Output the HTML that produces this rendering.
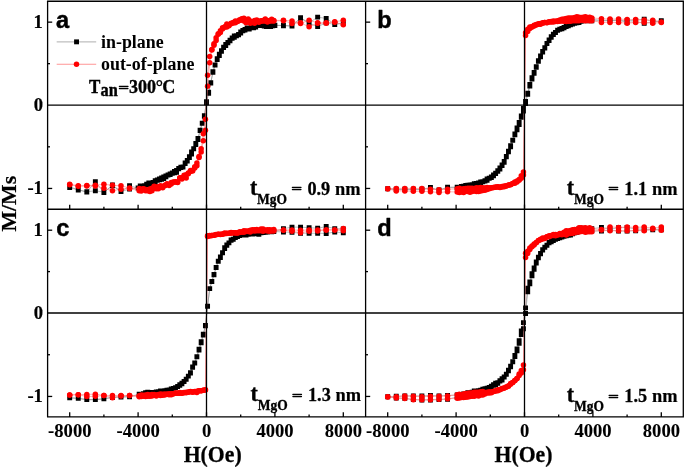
<!DOCTYPE html>
<html lang="en"><head><meta charset="utf-8"><title>M-H loops</title>
<style>html,body{margin:0;padding:0;background:#fff}body{width:685px;height:467px;overflow:hidden}svg{display:block}</style>
</head><body>
<svg width="685" height="467" viewBox="0 0 685 467">
<rect width="685" height="467" fill="#fff"/>
<path d="M343.3,22.83L334.75,24.08L326.2,18.42L317.65,17.17L309.1,22.83L300.55,17.76L292,25.91L283.45,25.33L274.9,25.5L272.76,25.46L270.62,26.44L268.49,26.28L266.35,26.48L264.21,25.97L262.07,25.09L259.94,25.54L257.8,25.39L255.66,26.27L253.53,26.61L251.39,27.32L249.25,29.13L247.11,28.31L244.97,29.41L242.84,30.44L240.7,33.02L238.56,34.76L236.43,35.88L234.29,37.2L232.15,38.28L230.01,40.19L227.88,42.48L225.74,45.65L223.6,47.15L221.46,50.66L219.32,55.49L217.19,58.58L215.05,65.05L212.91,71.7L210.78,83.11L208.64,93.18L206.5,102.91L204.36,115.58L202.22,123.36L200.09,130.25L197.95,138.56L195.81,144.54L193.68,148.78L191.54,151.93L189.4,157.6L187.26,161L185.12,163.54L182.99,166.9L180.85,167.47L178.71,168.34L176.57,172.25L174.44,172.72L172.3,173.41L170.16,174.64L168.03,174.83L165.89,176.71L163.75,178.55L161.61,177.93L159.47,178.98L157.34,179.87L155.2,180.6L153.06,182.34L150.93,183.2L148.79,184.83L146.65,184.25L144.51,185.8L142.38,186.42L140.24,187.68L138.1,188.13L129.55,185.82L121,191.64L112.45,184.99L103.9,192.48L95.35,181.66L86.8,192.14L78.25,189.65L69.7,186.99L69.7,187.57L78.25,190.06L86.8,191.73L95.35,190.81L103.9,192.14L112.45,185.9L121,191.31L129.55,189.15L138.1,187.84L140.24,185.98L142.38,187.47L144.51,186.36L146.65,184.5L148.79,183.01L150.93,182.89L153.06,183.85L155.2,183.24L157.34,180.26L159.47,179.92L161.61,179.23L163.75,176.93L165.89,175.94L168.03,175.06L170.16,173.93L172.3,173.05L174.44,171.45L176.57,170.5L178.71,168.86L180.85,167.14L182.99,166.95L185.12,162.97L187.26,160.52L189.4,156.71L191.54,154.05L193.68,148.86L195.81,143.34L197.95,139.47L200.09,130.54L202.22,123.1L204.36,116.38L206.5,101.61L208.64,92.32L210.78,82.79L212.91,72.28L215.05,64.99L217.19,59.64L219.32,54.29L221.46,51.36L223.6,47.63L225.74,44.53L227.88,42.81L230.01,40.75L232.15,37.86L234.29,35.91L236.43,35.58L238.56,34.52L240.7,31.99L242.84,30.87L244.97,29.94L247.11,27.94L249.25,28.71L251.39,26.6L253.53,27.72L255.66,26.96L257.8,25.66L259.94,25.08L262.07,25.26L264.21,25.6L266.35,25.77L268.49,25.97L270.62,25.91L272.76,25.92L274.9,25.14L283.45,25.74L292,26.16L300.55,18.26L309.1,23.25L317.65,26.58L326.2,22.83L334.75,24.5L343.3,23.25" fill="none" stroke="#8c8c8c" stroke-width="0.6"/>
<path d="M340.85,20.38h4.9v4.9h-4.9zM332.3,21.63h4.9v4.9h-4.9zM323.75,15.97h4.9v4.9h-4.9zM315.2,14.72h4.9v4.9h-4.9zM306.65,20.38h4.9v4.9h-4.9zM298.1,15.31h4.9v4.9h-4.9zM289.55,23.46h4.9v4.9h-4.9zM281,22.88h4.9v4.9h-4.9zM272.45,23.05h4.9v4.9h-4.9zM270.31,23.01h4.9v4.9h-4.9zM268.18,23.99h4.9v4.9h-4.9zM266.04,23.83h4.9v4.9h-4.9zM263.9,24.03h4.9v4.9h-4.9zM261.76,23.52h4.9v4.9h-4.9zM259.62,22.64h4.9v4.9h-4.9zM257.49,23.09h4.9v4.9h-4.9zM255.35,22.94h4.9v4.9h-4.9zM253.21,23.82h4.9v4.9h-4.9zM251.08,24.16h4.9v4.9h-4.9zM248.94,24.87h4.9v4.9h-4.9zM246.8,26.68h4.9v4.9h-4.9zM244.66,25.86h4.9v4.9h-4.9zM242.53,26.96h4.9v4.9h-4.9zM240.39,27.99h4.9v4.9h-4.9zM238.25,30.57h4.9v4.9h-4.9zM236.11,32.31h4.9v4.9h-4.9zM233.98,33.43h4.9v4.9h-4.9zM231.84,34.75h4.9v4.9h-4.9zM229.7,35.83h4.9v4.9h-4.9zM227.56,37.74h4.9v4.9h-4.9zM225.43,40.03h4.9v4.9h-4.9zM223.29,43.2h4.9v4.9h-4.9zM221.15,44.7h4.9v4.9h-4.9zM219.01,48.21h4.9v4.9h-4.9zM216.88,53.04h4.9v4.9h-4.9zM214.74,56.13h4.9v4.9h-4.9zM212.6,62.6h4.9v4.9h-4.9zM210.46,69.25h4.9v4.9h-4.9zM208.33,80.66h4.9v4.9h-4.9zM206.19,90.73h4.9v4.9h-4.9zM204.05,100.46h4.9v4.9h-4.9zM201.91,113.13h4.9v4.9h-4.9zM199.78,120.91h4.9v4.9h-4.9zM197.64,127.8h4.9v4.9h-4.9zM195.5,136.11h4.9v4.9h-4.9zM193.36,142.09h4.9v4.9h-4.9zM191.23,146.33h4.9v4.9h-4.9zM189.09,149.48h4.9v4.9h-4.9zM186.95,155.15h4.9v4.9h-4.9zM184.81,158.55h4.9v4.9h-4.9zM182.68,161.09h4.9v4.9h-4.9zM180.54,164.45h4.9v4.9h-4.9zM178.4,165.02h4.9v4.9h-4.9zM176.26,165.89h4.9v4.9h-4.9zM174.12,169.8h4.9v4.9h-4.9zM171.99,170.27h4.9v4.9h-4.9zM169.85,170.96h4.9v4.9h-4.9zM167.71,172.19h4.9v4.9h-4.9zM165.58,172.38h4.9v4.9h-4.9zM163.44,174.26h4.9v4.9h-4.9zM161.3,176.1h4.9v4.9h-4.9zM159.16,175.48h4.9v4.9h-4.9zM157.03,176.53h4.9v4.9h-4.9zM154.89,177.42h4.9v4.9h-4.9zM152.75,178.15h4.9v4.9h-4.9zM150.61,179.89h4.9v4.9h-4.9zM148.48,180.75h4.9v4.9h-4.9zM146.34,182.38h4.9v4.9h-4.9zM144.2,181.8h4.9v4.9h-4.9zM142.06,183.35h4.9v4.9h-4.9zM139.93,183.97h4.9v4.9h-4.9zM137.79,185.23h4.9v4.9h-4.9zM135.65,185.68h4.9v4.9h-4.9zM127.1,183.37h4.9v4.9h-4.9zM118.55,189.19h4.9v4.9h-4.9zM110,182.54h4.9v4.9h-4.9zM101.45,190.03h4.9v4.9h-4.9zM92.9,179.21h4.9v4.9h-4.9zM84.35,189.69h4.9v4.9h-4.9zM75.8,187.2h4.9v4.9h-4.9zM67.25,184.54h4.9v4.9h-4.9zM67.25,185.12h4.9v4.9h-4.9zM75.8,187.61h4.9v4.9h-4.9zM84.35,189.28h4.9v4.9h-4.9zM92.9,188.36h4.9v4.9h-4.9zM101.45,189.69h4.9v4.9h-4.9zM110,183.45h4.9v4.9h-4.9zM118.55,188.86h4.9v4.9h-4.9zM127.1,186.7h4.9v4.9h-4.9zM135.65,185.39h4.9v4.9h-4.9zM137.79,183.53h4.9v4.9h-4.9zM139.93,185.02h4.9v4.9h-4.9zM142.06,183.91h4.9v4.9h-4.9zM144.2,182.05h4.9v4.9h-4.9zM146.34,180.56h4.9v4.9h-4.9zM148.48,180.44h4.9v4.9h-4.9zM150.61,181.4h4.9v4.9h-4.9zM152.75,180.79h4.9v4.9h-4.9zM154.89,177.81h4.9v4.9h-4.9zM157.03,177.47h4.9v4.9h-4.9zM159.16,176.78h4.9v4.9h-4.9zM161.3,174.48h4.9v4.9h-4.9zM163.44,173.49h4.9v4.9h-4.9zM165.58,172.61h4.9v4.9h-4.9zM167.71,171.48h4.9v4.9h-4.9zM169.85,170.6h4.9v4.9h-4.9zM171.99,169h4.9v4.9h-4.9zM174.12,168.05h4.9v4.9h-4.9zM176.26,166.41h4.9v4.9h-4.9zM178.4,164.69h4.9v4.9h-4.9zM180.54,164.5h4.9v4.9h-4.9zM182.68,160.52h4.9v4.9h-4.9zM184.81,158.07h4.9v4.9h-4.9zM186.95,154.26h4.9v4.9h-4.9zM189.09,151.6h4.9v4.9h-4.9zM191.23,146.41h4.9v4.9h-4.9zM193.36,140.89h4.9v4.9h-4.9zM195.5,137.02h4.9v4.9h-4.9zM197.64,128.09h4.9v4.9h-4.9zM199.78,120.65h4.9v4.9h-4.9zM201.91,113.93h4.9v4.9h-4.9zM204.05,99.16h4.9v4.9h-4.9zM206.19,89.87h4.9v4.9h-4.9zM208.33,80.34h4.9v4.9h-4.9zM210.46,69.83h4.9v4.9h-4.9zM212.6,62.54h4.9v4.9h-4.9zM214.74,57.19h4.9v4.9h-4.9zM216.88,51.84h4.9v4.9h-4.9zM219.01,48.91h4.9v4.9h-4.9zM221.15,45.18h4.9v4.9h-4.9zM223.29,42.08h4.9v4.9h-4.9zM225.43,40.36h4.9v4.9h-4.9zM227.56,38.3h4.9v4.9h-4.9zM229.7,35.41h4.9v4.9h-4.9zM231.84,33.46h4.9v4.9h-4.9zM233.98,33.13h4.9v4.9h-4.9zM236.11,32.07h4.9v4.9h-4.9zM238.25,29.54h4.9v4.9h-4.9zM240.39,28.42h4.9v4.9h-4.9zM242.53,27.49h4.9v4.9h-4.9zM244.66,25.49h4.9v4.9h-4.9zM246.8,26.26h4.9v4.9h-4.9zM248.94,24.15h4.9v4.9h-4.9zM251.08,25.27h4.9v4.9h-4.9zM253.21,24.51h4.9v4.9h-4.9zM255.35,23.21h4.9v4.9h-4.9zM257.49,22.63h4.9v4.9h-4.9zM259.62,22.81h4.9v4.9h-4.9zM261.76,23.15h4.9v4.9h-4.9zM263.9,23.32h4.9v4.9h-4.9zM266.04,23.52h4.9v4.9h-4.9zM268.18,23.46h4.9v4.9h-4.9zM270.31,23.47h4.9v4.9h-4.9zM272.45,22.69h4.9v4.9h-4.9zM281,23.29h4.9v4.9h-4.9zM289.55,23.71h4.9v4.9h-4.9zM298.1,15.81h4.9v4.9h-4.9zM306.65,20.8h4.9v4.9h-4.9zM315.2,24.13h4.9v4.9h-4.9zM323.75,20.38h4.9v4.9h-4.9zM332.3,22.05h4.9v4.9h-4.9zM340.85,20.8h4.9v4.9h-4.9z" fill="#000"/>
<path d="M343.3,20.34L334.75,21.83L326.2,22.83L317.65,22.83L309.1,20.34L300.55,23.41L292,20.92L283.45,20.34L273.83,20.44L271.69,21.12L269.56,20.47L267.42,20.74L265.28,19.01L263.14,20.41L261.01,21.23L258.87,21.34L256.73,21.16L254.59,20.39L252.46,21.67L250.32,20.95L248.18,19.12L246.04,22.8L243.91,20.88L241.77,19.94L239.63,20.38L237.49,21.22L235.36,22.69L233.22,22.45L231.08,23.78L228.94,25.72L226.81,23.91L224.67,27L222.53,28.99L220.39,30.64L218.26,33.85L216.12,37.85L213.98,45.15L211.84,49.53L209.71,56.56L207.57,75.37L205.43,119.2L203.29,133.83L201.16,148.65L199.02,156.47L196.88,165.71L194.74,168.03L192.61,170.2L190.47,171.4L188.33,173.08L186.19,177.92L184.06,175.22L181.92,179.05L179.78,178.35L177.64,181.94L175.51,181.7L173.37,182.1L171.23,184.1L169.09,184.4L166.96,184.44L164.82,185.78L162.68,186.71L160.54,185.78L158.41,186.84L156.27,188.71L154.13,186.21L151.99,190.63L149.86,189.06L147.72,190.09L145.58,189.55L143.44,188.83L141.31,189.16L139.17,188.6L129.55,187.98L121,185.82L112.45,185.32L103.9,184.16L95.35,185.32L86.8,185.49L78.25,185.82L69.7,184.16L69.7,184.66L78.25,186.32L86.8,185.9L95.35,185.9L103.9,188.32L112.45,190.81L121,189.15L129.55,188.4L139.17,190.77L141.31,190.89L143.44,188.92L145.58,190.64L147.72,190.85L149.86,191.44L151.99,188.22L154.13,188.21L156.27,186.95L158.41,188.82L160.54,187.31L162.68,187.76L164.82,185.16L166.96,183.65L169.09,185.48L171.23,182.4L173.37,182.31L175.51,182.05L177.64,182.42L179.78,177.63L181.92,177.7L184.06,176.91L186.19,174.85L188.33,173.78L190.47,170.56L192.61,170.96L194.74,166.73L196.88,162.96L199.02,157.5L201.16,151.96L203.29,140.77L205.43,130.18L207.57,86.16L209.71,62.68L211.84,49.9L213.98,43.68L216.12,40.51L218.26,34.19L220.39,32.48L222.53,27.65L224.67,27.05L226.81,26.95L228.94,25.21L231.08,23.23L233.22,23.03L235.36,20.93L237.49,21.52L239.63,19.74L241.77,18.69L243.91,18.15L246.04,20.91L248.18,20.07L250.32,23.21L252.46,22.42L254.59,23.27L256.73,20.08L258.87,22.2L261.01,20.81L263.14,20.92L265.28,21.04L267.42,21.89L269.56,21L271.69,19.33L273.83,20.97L283.45,20.75L292,23.41L300.55,22.83L309.1,26.83L317.65,23.25L326.2,23.25L334.75,22.17L343.3,24.66" fill="none" stroke="#ff7a7a" stroke-width="0.6"/>
<g fill="#f00"><circle cx="343.3" cy="20.34" r="2.75"/><circle cx="334.75" cy="21.83" r="2.75"/><circle cx="326.2" cy="22.83" r="2.75"/><circle cx="317.65" cy="22.83" r="2.75"/><circle cx="309.1" cy="20.34" r="2.75"/><circle cx="300.55" cy="23.41" r="2.75"/><circle cx="292" cy="20.92" r="2.75"/><circle cx="283.45" cy="20.34" r="2.75"/><circle cx="273.83" cy="20.44" r="2.75"/><circle cx="271.69" cy="21.12" r="2.75"/><circle cx="269.56" cy="20.47" r="2.75"/><circle cx="267.42" cy="20.74" r="2.75"/><circle cx="265.28" cy="19.01" r="2.75"/><circle cx="263.14" cy="20.41" r="2.75"/><circle cx="261.01" cy="21.23" r="2.75"/><circle cx="258.87" cy="21.34" r="2.75"/><circle cx="256.73" cy="21.16" r="2.75"/><circle cx="254.59" cy="20.39" r="2.75"/><circle cx="252.46" cy="21.67" r="2.75"/><circle cx="250.32" cy="20.95" r="2.75"/><circle cx="248.18" cy="19.12" r="2.75"/><circle cx="246.04" cy="22.8" r="2.75"/><circle cx="243.91" cy="20.88" r="2.75"/><circle cx="241.77" cy="19.94" r="2.75"/><circle cx="239.63" cy="20.38" r="2.75"/><circle cx="237.49" cy="21.22" r="2.75"/><circle cx="235.36" cy="22.69" r="2.75"/><circle cx="233.22" cy="22.45" r="2.75"/><circle cx="231.08" cy="23.78" r="2.75"/><circle cx="228.94" cy="25.72" r="2.75"/><circle cx="226.81" cy="23.91" r="2.75"/><circle cx="224.67" cy="27" r="2.75"/><circle cx="222.53" cy="28.99" r="2.75"/><circle cx="220.39" cy="30.64" r="2.75"/><circle cx="218.26" cy="33.85" r="2.75"/><circle cx="216.12" cy="37.85" r="2.75"/><circle cx="213.98" cy="45.15" r="2.75"/><circle cx="211.84" cy="49.53" r="2.75"/><circle cx="209.71" cy="56.56" r="2.75"/><circle cx="207.57" cy="75.37" r="2.75"/><circle cx="205.43" cy="119.2" r="2.75"/><circle cx="203.29" cy="133.83" r="2.75"/><circle cx="201.16" cy="148.65" r="2.75"/><circle cx="199.02" cy="156.47" r="2.75"/><circle cx="196.88" cy="165.71" r="2.75"/><circle cx="194.74" cy="168.03" r="2.75"/><circle cx="192.61" cy="170.2" r="2.75"/><circle cx="190.47" cy="171.4" r="2.75"/><circle cx="188.33" cy="173.08" r="2.75"/><circle cx="186.19" cy="177.92" r="2.75"/><circle cx="184.06" cy="175.22" r="2.75"/><circle cx="181.92" cy="179.05" r="2.75"/><circle cx="179.78" cy="178.35" r="2.75"/><circle cx="177.64" cy="181.94" r="2.75"/><circle cx="175.51" cy="181.7" r="2.75"/><circle cx="173.37" cy="182.1" r="2.75"/><circle cx="171.23" cy="184.1" r="2.75"/><circle cx="169.09" cy="184.4" r="2.75"/><circle cx="166.96" cy="184.44" r="2.75"/><circle cx="164.82" cy="185.78" r="2.75"/><circle cx="162.68" cy="186.71" r="2.75"/><circle cx="160.54" cy="185.78" r="2.75"/><circle cx="158.41" cy="186.84" r="2.75"/><circle cx="156.27" cy="188.71" r="2.75"/><circle cx="154.13" cy="186.21" r="2.75"/><circle cx="151.99" cy="190.63" r="2.75"/><circle cx="149.86" cy="189.06" r="2.75"/><circle cx="147.72" cy="190.09" r="2.75"/><circle cx="145.58" cy="189.55" r="2.75"/><circle cx="143.44" cy="188.83" r="2.75"/><circle cx="141.31" cy="189.16" r="2.75"/><circle cx="139.17" cy="188.6" r="2.75"/><circle cx="129.55" cy="187.98" r="2.75"/><circle cx="121" cy="185.82" r="2.75"/><circle cx="112.45" cy="185.32" r="2.75"/><circle cx="103.9" cy="184.16" r="2.75"/><circle cx="95.35" cy="185.32" r="2.75"/><circle cx="86.8" cy="185.49" r="2.75"/><circle cx="78.25" cy="185.82" r="2.75"/><circle cx="69.7" cy="184.16" r="2.75"/><circle cx="69.7" cy="184.66" r="2.75"/><circle cx="78.25" cy="186.32" r="2.75"/><circle cx="86.8" cy="185.9" r="2.75"/><circle cx="95.35" cy="185.9" r="2.75"/><circle cx="103.9" cy="188.32" r="2.75"/><circle cx="112.45" cy="190.81" r="2.75"/><circle cx="121" cy="189.15" r="2.75"/><circle cx="129.55" cy="188.4" r="2.75"/><circle cx="139.17" cy="190.77" r="2.75"/><circle cx="141.31" cy="190.89" r="2.75"/><circle cx="143.44" cy="188.92" r="2.75"/><circle cx="145.58" cy="190.64" r="2.75"/><circle cx="147.72" cy="190.85" r="2.75"/><circle cx="149.86" cy="191.44" r="2.75"/><circle cx="151.99" cy="188.22" r="2.75"/><circle cx="154.13" cy="188.21" r="2.75"/><circle cx="156.27" cy="186.95" r="2.75"/><circle cx="158.41" cy="188.82" r="2.75"/><circle cx="160.54" cy="187.31" r="2.75"/><circle cx="162.68" cy="187.76" r="2.75"/><circle cx="164.82" cy="185.16" r="2.75"/><circle cx="166.96" cy="183.65" r="2.75"/><circle cx="169.09" cy="185.48" r="2.75"/><circle cx="171.23" cy="182.4" r="2.75"/><circle cx="173.37" cy="182.31" r="2.75"/><circle cx="175.51" cy="182.05" r="2.75"/><circle cx="177.64" cy="182.42" r="2.75"/><circle cx="179.78" cy="177.63" r="2.75"/><circle cx="181.92" cy="177.7" r="2.75"/><circle cx="184.06" cy="176.91" r="2.75"/><circle cx="186.19" cy="174.85" r="2.75"/><circle cx="188.33" cy="173.78" r="2.75"/><circle cx="190.47" cy="170.56" r="2.75"/><circle cx="192.61" cy="170.96" r="2.75"/><circle cx="194.74" cy="166.73" r="2.75"/><circle cx="196.88" cy="162.96" r="2.75"/><circle cx="199.02" cy="157.5" r="2.75"/><circle cx="201.16" cy="151.96" r="2.75"/><circle cx="203.29" cy="140.77" r="2.75"/><circle cx="205.43" cy="130.18" r="2.75"/><circle cx="207.57" cy="86.16" r="2.75"/><circle cx="209.71" cy="62.68" r="2.75"/><circle cx="211.84" cy="49.9" r="2.75"/><circle cx="213.98" cy="43.68" r="2.75"/><circle cx="216.12" cy="40.51" r="2.75"/><circle cx="218.26" cy="34.19" r="2.75"/><circle cx="220.39" cy="32.48" r="2.75"/><circle cx="222.53" cy="27.65" r="2.75"/><circle cx="224.67" cy="27.05" r="2.75"/><circle cx="226.81" cy="26.95" r="2.75"/><circle cx="228.94" cy="25.21" r="2.75"/><circle cx="231.08" cy="23.23" r="2.75"/><circle cx="233.22" cy="23.03" r="2.75"/><circle cx="235.36" cy="20.93" r="2.75"/><circle cx="237.49" cy="21.52" r="2.75"/><circle cx="239.63" cy="19.74" r="2.75"/><circle cx="241.77" cy="18.69" r="2.75"/><circle cx="243.91" cy="18.15" r="2.75"/><circle cx="246.04" cy="20.91" r="2.75"/><circle cx="248.18" cy="20.07" r="2.75"/><circle cx="250.32" cy="23.21" r="2.75"/><circle cx="252.46" cy="22.42" r="2.75"/><circle cx="254.59" cy="23.27" r="2.75"/><circle cx="256.73" cy="20.08" r="2.75"/><circle cx="258.87" cy="22.2" r="2.75"/><circle cx="261.01" cy="20.81" r="2.75"/><circle cx="263.14" cy="20.92" r="2.75"/><circle cx="265.28" cy="21.04" r="2.75"/><circle cx="267.42" cy="21.89" r="2.75"/><circle cx="269.56" cy="21" r="2.75"/><circle cx="271.69" cy="19.33" r="2.75"/><circle cx="273.83" cy="20.97" r="2.75"/><circle cx="283.45" cy="20.75" r="2.75"/><circle cx="292" cy="23.41" r="2.75"/><circle cx="300.55" cy="22.83" r="2.75"/><circle cx="309.1" cy="26.83" r="2.75"/><circle cx="317.65" cy="23.25" r="2.75"/><circle cx="326.2" cy="23.25" r="2.75"/><circle cx="334.75" cy="22.17" r="2.75"/><circle cx="343.3" cy="24.66" r="2.75"/></g>
<path d="M661.3,20.75L652.75,21.58L644.2,19.09L635.65,20.34L627.1,20.75L618.55,20.34L610,20.34L601.45,20.34L591.83,19.34L589.69,19.29L587.56,19.8L585.42,20.29L583.28,20.34L581.14,20.08L579.01,21.61L576.87,22.05L574.73,22.32L572.59,23.22L570.46,24.49L568.32,25.23L566.18,26.37L564.04,27.69L561.91,28.7L559.77,29.4L557.63,30.3L555.49,32.58L553.36,34.64L551.22,37.21L549.08,40.5L546.94,43.52L544.81,47.93L542.67,51.5L540.53,56.71L538.39,60.8L536.26,66.68L534.12,72.44L531.98,77.7L529.84,84.42L527.71,93.26L525.57,101.48L523.43,108.49L521.29,115.93L519.16,122.36L517.02,128L514.88,134.01L512.74,140.32L510.61,145.69L508.47,151.21L506.33,156.46L504.19,162.19L502.06,164.97L499.92,167.97L497.78,171.37L495.64,173.66L493.51,174.83L491.37,177.67L489.23,178.3L487.09,178.93L484.96,181.12L482.82,181.59L480.68,181.84L478.54,183.12L476.41,183.39L474.27,183.77L472.13,184.82L469.99,184.97L467.86,185.3L465.72,185.48L463.58,186.12L461.44,186.53L459.31,187.16L457.17,187.1L447.55,187.15L439,190.06L430.45,187.57L421.9,189.23L413.35,189.23L404.8,189.23L396.25,189.23L387.7,188.82L387.7,188.82L396.25,189.65L404.8,189.65L413.35,189.65L421.9,189.65L430.45,187.98L439,190.48L447.55,187.57L457.17,187.69L459.31,187.79L461.44,187.75L463.58,187.39L465.72,185.87L467.86,186.02L469.99,185.71L472.13,186.21L474.27,184.54L476.41,183.94L478.54,182.88L480.68,182.54L482.82,181.89L484.96,180.65L487.09,180.4L489.23,178.13L491.37,177L493.51,175.75L495.64,173.11L497.78,170.73L499.92,168.96L502.06,165.61L504.19,161.57L506.33,156.78L508.47,151.89L510.61,146.9L512.74,140.32L514.88,134.7L517.02,129.76L519.16,124.59L521.29,117.29L523.43,111.11L525.57,103.43L527.71,94.33L529.84,86.14L531.98,78.97L534.12,73.33L536.26,67.31L538.39,61.37L540.53,56.07L542.67,52.1L544.81,47.75L546.94,43.45L549.08,39.96L551.22,36.81L553.36,34.32L555.49,32.54L557.63,30.37L559.77,29.19L561.91,28.47L564.04,27.52L566.18,26.48L568.32,25.74L570.46,24.8L572.59,24L574.73,23.27L576.87,22.72L579.01,22.47L581.14,21.3L583.28,20.8L585.42,20.72L587.56,20.8L589.69,20.47L591.83,20.83L601.45,20.75L610,20.75L618.55,20.34L627.1,22.42L635.65,21.58L644.2,23.25L652.75,22L661.3,21.17" fill="none" stroke="#8c8c8c" stroke-width="0.6"/>
<path d="M658.85,18.3h4.9v4.9h-4.9zM650.3,19.13h4.9v4.9h-4.9zM641.75,16.64h4.9v4.9h-4.9zM633.2,17.89h4.9v4.9h-4.9zM624.65,18.3h4.9v4.9h-4.9zM616.1,17.89h4.9v4.9h-4.9zM607.55,17.89h4.9v4.9h-4.9zM599,17.89h4.9v4.9h-4.9zM589.38,16.89h4.9v4.9h-4.9zM587.24,16.84h4.9v4.9h-4.9zM585.11,17.35h4.9v4.9h-4.9zM582.97,17.84h4.9v4.9h-4.9zM580.83,17.89h4.9v4.9h-4.9zM578.69,17.63h4.9v4.9h-4.9zM576.56,19.16h4.9v4.9h-4.9zM574.42,19.6h4.9v4.9h-4.9zM572.28,19.87h4.9v4.9h-4.9zM570.14,20.77h4.9v4.9h-4.9zM568.01,22.04h4.9v4.9h-4.9zM565.87,22.78h4.9v4.9h-4.9zM563.73,23.92h4.9v4.9h-4.9zM561.59,25.24h4.9v4.9h-4.9zM559.46,26.25h4.9v4.9h-4.9zM557.32,26.95h4.9v4.9h-4.9zM555.18,27.85h4.9v4.9h-4.9zM553.04,30.13h4.9v4.9h-4.9zM550.91,32.19h4.9v4.9h-4.9zM548.77,34.76h4.9v4.9h-4.9zM546.63,38.05h4.9v4.9h-4.9zM544.49,41.07h4.9v4.9h-4.9zM542.36,45.48h4.9v4.9h-4.9zM540.22,49.05h4.9v4.9h-4.9zM538.08,54.26h4.9v4.9h-4.9zM535.94,58.35h4.9v4.9h-4.9zM533.81,64.23h4.9v4.9h-4.9zM531.67,69.99h4.9v4.9h-4.9zM529.53,75.25h4.9v4.9h-4.9zM527.39,81.97h4.9v4.9h-4.9zM525.26,90.81h4.9v4.9h-4.9zM523.12,99.03h4.9v4.9h-4.9zM520.98,106.04h4.9v4.9h-4.9zM518.84,113.48h4.9v4.9h-4.9zM516.71,119.91h4.9v4.9h-4.9zM514.57,125.55h4.9v4.9h-4.9zM512.43,131.56h4.9v4.9h-4.9zM510.29,137.87h4.9v4.9h-4.9zM508.16,143.24h4.9v4.9h-4.9zM506.02,148.76h4.9v4.9h-4.9zM503.88,154.01h4.9v4.9h-4.9zM501.74,159.74h4.9v4.9h-4.9zM499.61,162.52h4.9v4.9h-4.9zM497.47,165.52h4.9v4.9h-4.9zM495.33,168.92h4.9v4.9h-4.9zM493.19,171.21h4.9v4.9h-4.9zM491.06,172.38h4.9v4.9h-4.9zM488.92,175.22h4.9v4.9h-4.9zM486.78,175.85h4.9v4.9h-4.9zM484.64,176.48h4.9v4.9h-4.9zM482.51,178.67h4.9v4.9h-4.9zM480.37,179.14h4.9v4.9h-4.9zM478.23,179.39h4.9v4.9h-4.9zM476.09,180.67h4.9v4.9h-4.9zM473.96,180.94h4.9v4.9h-4.9zM471.82,181.32h4.9v4.9h-4.9zM469.68,182.37h4.9v4.9h-4.9zM467.54,182.52h4.9v4.9h-4.9zM465.41,182.85h4.9v4.9h-4.9zM463.27,183.03h4.9v4.9h-4.9zM461.13,183.67h4.9v4.9h-4.9zM458.99,184.08h4.9v4.9h-4.9zM456.86,184.71h4.9v4.9h-4.9zM454.72,184.65h4.9v4.9h-4.9zM445.1,184.7h4.9v4.9h-4.9zM436.55,187.61h4.9v4.9h-4.9zM428,185.12h4.9v4.9h-4.9zM419.45,186.78h4.9v4.9h-4.9zM410.9,186.78h4.9v4.9h-4.9zM402.35,186.78h4.9v4.9h-4.9zM393.8,186.78h4.9v4.9h-4.9zM385.25,186.37h4.9v4.9h-4.9zM385.25,186.37h4.9v4.9h-4.9zM393.8,187.2h4.9v4.9h-4.9zM402.35,187.2h4.9v4.9h-4.9zM410.9,187.2h4.9v4.9h-4.9zM419.45,187.2h4.9v4.9h-4.9zM428,185.53h4.9v4.9h-4.9zM436.55,188.03h4.9v4.9h-4.9zM445.1,185.12h4.9v4.9h-4.9zM454.72,185.24h4.9v4.9h-4.9zM456.86,185.34h4.9v4.9h-4.9zM458.99,185.3h4.9v4.9h-4.9zM461.13,184.94h4.9v4.9h-4.9zM463.27,183.42h4.9v4.9h-4.9zM465.41,183.57h4.9v4.9h-4.9zM467.54,183.26h4.9v4.9h-4.9zM469.68,183.76h4.9v4.9h-4.9zM471.82,182.09h4.9v4.9h-4.9zM473.96,181.49h4.9v4.9h-4.9zM476.09,180.43h4.9v4.9h-4.9zM478.23,180.09h4.9v4.9h-4.9zM480.37,179.44h4.9v4.9h-4.9zM482.51,178.2h4.9v4.9h-4.9zM484.64,177.95h4.9v4.9h-4.9zM486.78,175.68h4.9v4.9h-4.9zM488.92,174.55h4.9v4.9h-4.9zM491.06,173.3h4.9v4.9h-4.9zM493.19,170.66h4.9v4.9h-4.9zM495.33,168.28h4.9v4.9h-4.9zM497.47,166.51h4.9v4.9h-4.9zM499.61,163.16h4.9v4.9h-4.9zM501.74,159.12h4.9v4.9h-4.9zM503.88,154.33h4.9v4.9h-4.9zM506.02,149.44h4.9v4.9h-4.9zM508.16,144.45h4.9v4.9h-4.9zM510.29,137.87h4.9v4.9h-4.9zM512.43,132.25h4.9v4.9h-4.9zM514.57,127.31h4.9v4.9h-4.9zM516.71,122.14h4.9v4.9h-4.9zM518.84,114.84h4.9v4.9h-4.9zM520.98,108.66h4.9v4.9h-4.9zM523.12,100.98h4.9v4.9h-4.9zM525.26,91.88h4.9v4.9h-4.9zM527.39,83.69h4.9v4.9h-4.9zM529.53,76.52h4.9v4.9h-4.9zM531.67,70.88h4.9v4.9h-4.9zM533.81,64.86h4.9v4.9h-4.9zM535.94,58.92h4.9v4.9h-4.9zM538.08,53.62h4.9v4.9h-4.9zM540.22,49.65h4.9v4.9h-4.9zM542.36,45.3h4.9v4.9h-4.9zM544.49,41h4.9v4.9h-4.9zM546.63,37.51h4.9v4.9h-4.9zM548.77,34.36h4.9v4.9h-4.9zM550.91,31.87h4.9v4.9h-4.9zM553.04,30.09h4.9v4.9h-4.9zM555.18,27.92h4.9v4.9h-4.9zM557.32,26.74h4.9v4.9h-4.9zM559.46,26.02h4.9v4.9h-4.9zM561.59,25.07h4.9v4.9h-4.9zM563.73,24.03h4.9v4.9h-4.9zM565.87,23.29h4.9v4.9h-4.9zM568.01,22.35h4.9v4.9h-4.9zM570.14,21.55h4.9v4.9h-4.9zM572.28,20.82h4.9v4.9h-4.9zM574.42,20.27h4.9v4.9h-4.9zM576.56,20.02h4.9v4.9h-4.9zM578.69,18.85h4.9v4.9h-4.9zM580.83,18.35h4.9v4.9h-4.9zM582.97,18.27h4.9v4.9h-4.9zM585.11,18.35h4.9v4.9h-4.9zM587.24,18.02h4.9v4.9h-4.9zM589.38,18.38h4.9v4.9h-4.9zM599,18.3h4.9v4.9h-4.9zM607.55,18.3h4.9v4.9h-4.9zM616.1,17.89h4.9v4.9h-4.9zM624.65,19.97h4.9v4.9h-4.9zM633.2,19.13h4.9v4.9h-4.9zM641.75,20.8h4.9v4.9h-4.9zM650.3,19.55h4.9v4.9h-4.9zM658.85,18.72h4.9v4.9h-4.9z" fill="#000"/>
<path d="M661.3,22L652.75,20.34L644.2,19.92L635.65,19.5L627.1,19.5L618.55,19.09L610,19.09L601.45,18.67L591.83,17.96L589.69,17.2L587.56,17.42L585.42,16.75L583.28,17.21L581.14,17.58L579.01,17.24L576.87,16.66L574.73,17.56L572.59,18.1L570.46,18.12L568.32,17.98L566.18,18.46L564.04,19.09L561.91,19.2L559.77,20.01L557.63,20.79L555.49,21.13L553.36,21.09L551.22,21.6L549.08,21.76L546.94,22.61L544.81,22.55L542.67,22.68L540.53,23.45L538.39,23.7L536.26,24.54L534.12,25.35L531.98,26.69L529.84,27.07L527.71,29.29L525.57,32.68L523.43,172.08L521.29,175.83L519.16,179.51L517.02,180.89L514.88,182.11L512.74,183.56L510.61,184.83L508.47,185.04L506.33,185.63L504.19,186.01L502.06,186.52L499.92,186.98L497.78,186.92L495.64,187.24L493.51,187.6L491.37,187.69L489.23,187.83L487.09,187.56L484.96,188.04L482.82,187.76L480.68,187.42L478.54,187.96L476.41,187.82L474.27,188.56L472.13,188.33L469.99,188.13L467.86,188.21L465.72,188.51L463.58,188.65L461.44,189.14L459.31,188.24L457.17,188.86L447.55,189.23L439,189.65L430.45,189.23L421.9,188.4L413.35,188.4L404.8,188.4L396.25,188.4L387.7,188.82L387.7,188.82L396.25,190.9L404.8,190.9L413.35,191.31L421.9,191.31L430.45,191.73L439,192.56L447.55,191.73L457.17,192L459.31,192.47L461.44,192.06L463.58,192.51L465.72,191.56L467.86,191.42L469.99,192.28L472.13,191.45L474.27,191.01L476.41,191.59L478.54,191.41L480.68,190.95L482.82,190.42L484.96,190.29L487.09,189.39L489.23,188.76L491.37,188.07L493.51,187.49L495.64,186.92L497.78,186.82L499.92,187.43L502.06,186.95L504.19,186.75L506.33,186.12L508.47,185.16L510.61,184.51L512.74,183.52L514.88,183.2L517.02,182.02L519.16,180.21L521.29,178.26L523.43,175.02L525.57,35.43L527.71,31.45L529.84,28.49L531.98,26.93L534.12,25.91L536.26,25.08L538.39,24.18L540.53,24.3L542.67,23.27L544.81,22.5L546.94,22.75L549.08,22.04L551.22,21.88L553.36,22.1L555.49,21.47L557.63,21.46L559.77,21.18L561.91,21.11L564.04,21.3L566.18,21.56L568.32,21.37L570.46,21.21L572.59,20.73L574.73,20.66L576.87,20.75L579.01,20.68L581.14,20.16L583.28,20.42L585.42,20.69L587.56,20.47L589.69,20.71L591.83,20.63L601.45,22.42L610,22.42L618.55,22.42L627.1,23.25L635.65,22.42L644.2,22.42L652.75,23.25L661.3,22.42" fill="none" stroke="#ff7a7a" stroke-width="0.6"/>
<g fill="#f00"><circle cx="661.3" cy="22" r="2.75"/><circle cx="652.75" cy="20.34" r="2.75"/><circle cx="644.2" cy="19.92" r="2.75"/><circle cx="635.65" cy="19.5" r="2.75"/><circle cx="627.1" cy="19.5" r="2.75"/><circle cx="618.55" cy="19.09" r="2.75"/><circle cx="610" cy="19.09" r="2.75"/><circle cx="601.45" cy="18.67" r="2.75"/><circle cx="591.83" cy="17.96" r="2.75"/><circle cx="589.69" cy="17.2" r="2.75"/><circle cx="587.56" cy="17.42" r="2.75"/><circle cx="585.42" cy="16.75" r="2.75"/><circle cx="583.28" cy="17.21" r="2.75"/><circle cx="581.14" cy="17.58" r="2.75"/><circle cx="579.01" cy="17.24" r="2.75"/><circle cx="576.87" cy="16.66" r="2.75"/><circle cx="574.73" cy="17.56" r="2.75"/><circle cx="572.59" cy="18.1" r="2.75"/><circle cx="570.46" cy="18.12" r="2.75"/><circle cx="568.32" cy="17.98" r="2.75"/><circle cx="566.18" cy="18.46" r="2.75"/><circle cx="564.04" cy="19.09" r="2.75"/><circle cx="561.91" cy="19.2" r="2.75"/><circle cx="559.77" cy="20.01" r="2.75"/><circle cx="557.63" cy="20.79" r="2.75"/><circle cx="555.49" cy="21.13" r="2.75"/><circle cx="553.36" cy="21.09" r="2.75"/><circle cx="551.22" cy="21.6" r="2.75"/><circle cx="549.08" cy="21.76" r="2.75"/><circle cx="546.94" cy="22.61" r="2.75"/><circle cx="544.81" cy="22.55" r="2.75"/><circle cx="542.67" cy="22.68" r="2.75"/><circle cx="540.53" cy="23.45" r="2.75"/><circle cx="538.39" cy="23.7" r="2.75"/><circle cx="536.26" cy="24.54" r="2.75"/><circle cx="534.12" cy="25.35" r="2.75"/><circle cx="531.98" cy="26.69" r="2.75"/><circle cx="529.84" cy="27.07" r="2.75"/><circle cx="527.71" cy="29.29" r="2.75"/><circle cx="525.57" cy="32.68" r="2.75"/><circle cx="523.43" cy="172.08" r="2.75"/><circle cx="521.29" cy="175.83" r="2.75"/><circle cx="519.16" cy="179.51" r="2.75"/><circle cx="517.02" cy="180.89" r="2.75"/><circle cx="514.88" cy="182.11" r="2.75"/><circle cx="512.74" cy="183.56" r="2.75"/><circle cx="510.61" cy="184.83" r="2.75"/><circle cx="508.47" cy="185.04" r="2.75"/><circle cx="506.33" cy="185.63" r="2.75"/><circle cx="504.19" cy="186.01" r="2.75"/><circle cx="502.06" cy="186.52" r="2.75"/><circle cx="499.92" cy="186.98" r="2.75"/><circle cx="497.78" cy="186.92" r="2.75"/><circle cx="495.64" cy="187.24" r="2.75"/><circle cx="493.51" cy="187.6" r="2.75"/><circle cx="491.37" cy="187.69" r="2.75"/><circle cx="489.23" cy="187.83" r="2.75"/><circle cx="487.09" cy="187.56" r="2.75"/><circle cx="484.96" cy="188.04" r="2.75"/><circle cx="482.82" cy="187.76" r="2.75"/><circle cx="480.68" cy="187.42" r="2.75"/><circle cx="478.54" cy="187.96" r="2.75"/><circle cx="476.41" cy="187.82" r="2.75"/><circle cx="474.27" cy="188.56" r="2.75"/><circle cx="472.13" cy="188.33" r="2.75"/><circle cx="469.99" cy="188.13" r="2.75"/><circle cx="467.86" cy="188.21" r="2.75"/><circle cx="465.72" cy="188.51" r="2.75"/><circle cx="463.58" cy="188.65" r="2.75"/><circle cx="461.44" cy="189.14" r="2.75"/><circle cx="459.31" cy="188.24" r="2.75"/><circle cx="457.17" cy="188.86" r="2.75"/><circle cx="447.55" cy="189.23" r="2.75"/><circle cx="439" cy="189.65" r="2.75"/><circle cx="430.45" cy="189.23" r="2.75"/><circle cx="421.9" cy="188.4" r="2.75"/><circle cx="413.35" cy="188.4" r="2.75"/><circle cx="404.8" cy="188.4" r="2.75"/><circle cx="396.25" cy="188.4" r="2.75"/><circle cx="387.7" cy="188.82" r="2.75"/><circle cx="387.7" cy="188.82" r="2.75"/><circle cx="396.25" cy="190.9" r="2.75"/><circle cx="404.8" cy="190.9" r="2.75"/><circle cx="413.35" cy="191.31" r="2.75"/><circle cx="421.9" cy="191.31" r="2.75"/><circle cx="430.45" cy="191.73" r="2.75"/><circle cx="439" cy="192.56" r="2.75"/><circle cx="447.55" cy="191.73" r="2.75"/><circle cx="457.17" cy="192" r="2.75"/><circle cx="459.31" cy="192.47" r="2.75"/><circle cx="461.44" cy="192.06" r="2.75"/><circle cx="463.58" cy="192.51" r="2.75"/><circle cx="465.72" cy="191.56" r="2.75"/><circle cx="467.86" cy="191.42" r="2.75"/><circle cx="469.99" cy="192.28" r="2.75"/><circle cx="472.13" cy="191.45" r="2.75"/><circle cx="474.27" cy="191.01" r="2.75"/><circle cx="476.41" cy="191.59" r="2.75"/><circle cx="478.54" cy="191.41" r="2.75"/><circle cx="480.68" cy="190.95" r="2.75"/><circle cx="482.82" cy="190.42" r="2.75"/><circle cx="484.96" cy="190.29" r="2.75"/><circle cx="487.09" cy="189.39" r="2.75"/><circle cx="489.23" cy="188.76" r="2.75"/><circle cx="491.37" cy="188.07" r="2.75"/><circle cx="493.51" cy="187.49" r="2.75"/><circle cx="495.64" cy="186.92" r="2.75"/><circle cx="497.78" cy="186.82" r="2.75"/><circle cx="499.92" cy="187.43" r="2.75"/><circle cx="502.06" cy="186.95" r="2.75"/><circle cx="504.19" cy="186.75" r="2.75"/><circle cx="506.33" cy="186.12" r="2.75"/><circle cx="508.47" cy="185.16" r="2.75"/><circle cx="510.61" cy="184.51" r="2.75"/><circle cx="512.74" cy="183.52" r="2.75"/><circle cx="514.88" cy="183.2" r="2.75"/><circle cx="517.02" cy="182.02" r="2.75"/><circle cx="519.16" cy="180.21" r="2.75"/><circle cx="521.29" cy="178.26" r="2.75"/><circle cx="523.43" cy="175.02" r="2.75"/><circle cx="525.57" cy="35.43" r="2.75"/><circle cx="527.71" cy="31.45" r="2.75"/><circle cx="529.84" cy="28.49" r="2.75"/><circle cx="531.98" cy="26.93" r="2.75"/><circle cx="534.12" cy="25.91" r="2.75"/><circle cx="536.26" cy="25.08" r="2.75"/><circle cx="538.39" cy="24.18" r="2.75"/><circle cx="540.53" cy="24.3" r="2.75"/><circle cx="542.67" cy="23.27" r="2.75"/><circle cx="544.81" cy="22.5" r="2.75"/><circle cx="546.94" cy="22.75" r="2.75"/><circle cx="549.08" cy="22.04" r="2.75"/><circle cx="551.22" cy="21.88" r="2.75"/><circle cx="553.36" cy="22.1" r="2.75"/><circle cx="555.49" cy="21.47" r="2.75"/><circle cx="557.63" cy="21.46" r="2.75"/><circle cx="559.77" cy="21.18" r="2.75"/><circle cx="561.91" cy="21.11" r="2.75"/><circle cx="564.04" cy="21.3" r="2.75"/><circle cx="566.18" cy="21.56" r="2.75"/><circle cx="568.32" cy="21.37" r="2.75"/><circle cx="570.46" cy="21.21" r="2.75"/><circle cx="572.59" cy="20.73" r="2.75"/><circle cx="574.73" cy="20.66" r="2.75"/><circle cx="576.87" cy="20.75" r="2.75"/><circle cx="579.01" cy="20.68" r="2.75"/><circle cx="581.14" cy="20.16" r="2.75"/><circle cx="583.28" cy="20.42" r="2.75"/><circle cx="585.42" cy="20.69" r="2.75"/><circle cx="587.56" cy="20.47" r="2.75"/><circle cx="589.69" cy="20.71" r="2.75"/><circle cx="591.83" cy="20.63" r="2.75"/><circle cx="601.45" cy="22.42" r="2.75"/><circle cx="610" cy="22.42" r="2.75"/><circle cx="618.55" cy="22.42" r="2.75"/><circle cx="627.1" cy="23.25" r="2.75"/><circle cx="635.65" cy="22.42" r="2.75"/><circle cx="644.2" cy="22.42" r="2.75"/><circle cx="652.75" cy="23.25" r="2.75"/><circle cx="661.3" cy="22.42" r="2.75"/></g>
<path d="M343.3,229.07L334.75,228.65L326.2,226.57L317.65,228.24L309.1,227.74L300.55,227.15L292,227.15L283.45,228.65L273.83,231.48L271.69,231.88L269.56,231.06L267.42,232.03L265.28,231.78L263.14,232.58L261.01,232.73L258.87,234.3L256.73,233.9L254.59,233.71L252.46,233.8L250.32,233.43L248.18,234.28L246.04,234.1L243.91,234.47L241.77,234.84L239.63,235.49L237.49,236.46L235.36,237.43L233.22,239.35L231.08,240.02L228.94,242.86L226.81,244.96L224.67,247.76L222.53,252.6L220.39,256.86L218.26,261.27L216.12,267.51L213.98,274.91L211.84,281.34L209.71,288.59L207.57,306.19L205.43,325.76L203.29,334.21L201.16,341.61L199.02,350.15L196.88,356.6L194.74,362.91L192.61,367.29L190.47,373.02L188.33,376.12L186.19,379.33L184.06,381.66L181.92,383.18L179.78,384.58L177.64,386.4L175.51,387.9L173.37,388.36L171.23,389.5L169.09,390.05L166.96,390.08L164.82,390.64L162.68,391.56L160.54,390.88L158.41,391.9L156.27,391.89L154.13,392.59L151.99,392.56L149.86,393.3L147.72,392.29L145.58,392.73L143.44,394.02L141.31,394.54L139.17,395.01L129.55,396.72L121,396.72L112.45,397.13L103.9,398.8L95.35,399.63L86.8,399.63L78.25,398.38L69.7,397.8L69.7,397.8L78.25,398.38L86.8,399.63L95.35,399.63L103.9,398.8L112.45,397.55L121,397.13L129.55,396.72L139.17,394.08L141.31,394.2L143.44,393.64L145.58,393.29L147.72,392.93L149.86,393.08L151.99,392.54L154.13,392.85L156.27,392.18L158.41,391.8L160.54,391.49L162.68,391.46L164.82,391.31L166.96,390.53L169.09,390.32L171.23,388.96L173.37,388.38L175.51,387.72L177.64,386.56L179.78,385.26L181.92,383.73L184.06,381.54L186.19,379.08L188.33,376.17L190.47,372.6L192.61,367.06L194.74,363L196.88,356.68L199.02,349.22L201.16,342.79L203.29,334.97L205.43,325.45L207.57,306.38L209.71,288.65L211.84,281.5L213.98,274.52L216.12,267.5L218.26,261.4L220.39,257.5L222.53,252.82L224.67,248.47L226.81,245.39L228.94,242.87L231.08,240.21L233.22,239.21L235.36,237.39L237.49,236.16L239.63,235.56L241.77,234.99L243.91,234.76L246.04,235L248.18,234.4L250.32,234.06L252.46,234.17L254.59,233.83L256.73,233.4L258.87,233.8L261.01,232.89L263.14,232L265.28,232.33L267.42,231.87L269.56,231.88L271.69,231.23L273.83,231.55L283.45,231.98L292,232.4L300.55,233.23L309.1,233.23L317.65,233.23L326.2,233.48L334.75,231.98L343.3,232.81" fill="none" stroke="#8c8c8c" stroke-width="0.6"/>
<path d="M340.85,226.62h4.9v4.9h-4.9zM332.3,226.2h4.9v4.9h-4.9zM323.75,224.12h4.9v4.9h-4.9zM315.2,225.79h4.9v4.9h-4.9zM306.65,225.29h4.9v4.9h-4.9zM298.1,224.7h4.9v4.9h-4.9zM289.55,224.7h4.9v4.9h-4.9zM281,226.2h4.9v4.9h-4.9zM271.38,229.03h4.9v4.9h-4.9zM269.24,229.43h4.9v4.9h-4.9zM267.11,228.61h4.9v4.9h-4.9zM264.97,229.58h4.9v4.9h-4.9zM262.83,229.33h4.9v4.9h-4.9zM260.69,230.13h4.9v4.9h-4.9zM258.56,230.28h4.9v4.9h-4.9zM256.42,231.85h4.9v4.9h-4.9zM254.28,231.45h4.9v4.9h-4.9zM252.14,231.26h4.9v4.9h-4.9zM250.01,231.35h4.9v4.9h-4.9zM247.87,230.98h4.9v4.9h-4.9zM245.73,231.83h4.9v4.9h-4.9zM243.59,231.65h4.9v4.9h-4.9zM241.46,232.02h4.9v4.9h-4.9zM239.32,232.39h4.9v4.9h-4.9zM237.18,233.04h4.9v4.9h-4.9zM235.04,234.01h4.9v4.9h-4.9zM232.91,234.98h4.9v4.9h-4.9zM230.77,236.9h4.9v4.9h-4.9zM228.63,237.57h4.9v4.9h-4.9zM226.49,240.41h4.9v4.9h-4.9zM224.36,242.51h4.9v4.9h-4.9zM222.22,245.31h4.9v4.9h-4.9zM220.08,250.15h4.9v4.9h-4.9zM217.94,254.41h4.9v4.9h-4.9zM215.81,258.82h4.9v4.9h-4.9zM213.67,265.06h4.9v4.9h-4.9zM211.53,272.46h4.9v4.9h-4.9zM209.39,278.89h4.9v4.9h-4.9zM207.26,286.14h4.9v4.9h-4.9zM205.12,303.74h4.9v4.9h-4.9zM202.98,323.31h4.9v4.9h-4.9zM200.84,331.76h4.9v4.9h-4.9zM198.71,339.16h4.9v4.9h-4.9zM196.57,347.7h4.9v4.9h-4.9zM194.43,354.15h4.9v4.9h-4.9zM192.29,360.46h4.9v4.9h-4.9zM190.16,364.84h4.9v4.9h-4.9zM188.02,370.57h4.9v4.9h-4.9zM185.88,373.67h4.9v4.9h-4.9zM183.74,376.88h4.9v4.9h-4.9zM181.61,379.21h4.9v4.9h-4.9zM179.47,380.73h4.9v4.9h-4.9zM177.33,382.13h4.9v4.9h-4.9zM175.19,383.95h4.9v4.9h-4.9zM173.06,385.45h4.9v4.9h-4.9zM170.92,385.91h4.9v4.9h-4.9zM168.78,387.05h4.9v4.9h-4.9zM166.64,387.6h4.9v4.9h-4.9zM164.51,387.63h4.9v4.9h-4.9zM162.37,388.19h4.9v4.9h-4.9zM160.23,389.11h4.9v4.9h-4.9zM158.09,388.43h4.9v4.9h-4.9zM155.96,389.45h4.9v4.9h-4.9zM153.82,389.44h4.9v4.9h-4.9zM151.68,390.14h4.9v4.9h-4.9zM149.54,390.11h4.9v4.9h-4.9zM147.41,390.85h4.9v4.9h-4.9zM145.27,389.84h4.9v4.9h-4.9zM143.13,390.28h4.9v4.9h-4.9zM140.99,391.57h4.9v4.9h-4.9zM138.86,392.09h4.9v4.9h-4.9zM136.72,392.56h4.9v4.9h-4.9zM127.1,394.27h4.9v4.9h-4.9zM118.55,394.27h4.9v4.9h-4.9zM110,394.68h4.9v4.9h-4.9zM101.45,396.35h4.9v4.9h-4.9zM92.9,397.18h4.9v4.9h-4.9zM84.35,397.18h4.9v4.9h-4.9zM75.8,395.93h4.9v4.9h-4.9zM67.25,395.35h4.9v4.9h-4.9zM67.25,395.35h4.9v4.9h-4.9zM75.8,395.93h4.9v4.9h-4.9zM84.35,397.18h4.9v4.9h-4.9zM92.9,397.18h4.9v4.9h-4.9zM101.45,396.35h4.9v4.9h-4.9zM110,395.1h4.9v4.9h-4.9zM118.55,394.68h4.9v4.9h-4.9zM127.1,394.27h4.9v4.9h-4.9zM136.72,391.63h4.9v4.9h-4.9zM138.86,391.75h4.9v4.9h-4.9zM140.99,391.19h4.9v4.9h-4.9zM143.13,390.84h4.9v4.9h-4.9zM145.27,390.48h4.9v4.9h-4.9zM147.41,390.63h4.9v4.9h-4.9zM149.54,390.09h4.9v4.9h-4.9zM151.68,390.4h4.9v4.9h-4.9zM153.82,389.73h4.9v4.9h-4.9zM155.96,389.35h4.9v4.9h-4.9zM158.09,389.04h4.9v4.9h-4.9zM160.23,389.01h4.9v4.9h-4.9zM162.37,388.86h4.9v4.9h-4.9zM164.51,388.08h4.9v4.9h-4.9zM166.64,387.87h4.9v4.9h-4.9zM168.78,386.51h4.9v4.9h-4.9zM170.92,385.93h4.9v4.9h-4.9zM173.06,385.27h4.9v4.9h-4.9zM175.19,384.11h4.9v4.9h-4.9zM177.33,382.81h4.9v4.9h-4.9zM179.47,381.28h4.9v4.9h-4.9zM181.61,379.09h4.9v4.9h-4.9zM183.74,376.63h4.9v4.9h-4.9zM185.88,373.72h4.9v4.9h-4.9zM188.02,370.15h4.9v4.9h-4.9zM190.16,364.61h4.9v4.9h-4.9zM192.29,360.55h4.9v4.9h-4.9zM194.43,354.23h4.9v4.9h-4.9zM196.57,346.77h4.9v4.9h-4.9zM198.71,340.34h4.9v4.9h-4.9zM200.84,332.52h4.9v4.9h-4.9zM202.98,323h4.9v4.9h-4.9zM205.12,303.93h4.9v4.9h-4.9zM207.26,286.2h4.9v4.9h-4.9zM209.39,279.05h4.9v4.9h-4.9zM211.53,272.07h4.9v4.9h-4.9zM213.67,265.05h4.9v4.9h-4.9zM215.81,258.95h4.9v4.9h-4.9zM217.94,255.05h4.9v4.9h-4.9zM220.08,250.37h4.9v4.9h-4.9zM222.22,246.02h4.9v4.9h-4.9zM224.36,242.94h4.9v4.9h-4.9zM226.49,240.42h4.9v4.9h-4.9zM228.63,237.76h4.9v4.9h-4.9zM230.77,236.76h4.9v4.9h-4.9zM232.91,234.94h4.9v4.9h-4.9zM235.04,233.71h4.9v4.9h-4.9zM237.18,233.11h4.9v4.9h-4.9zM239.32,232.54h4.9v4.9h-4.9zM241.46,232.31h4.9v4.9h-4.9zM243.59,232.55h4.9v4.9h-4.9zM245.73,231.95h4.9v4.9h-4.9zM247.87,231.61h4.9v4.9h-4.9zM250.01,231.72h4.9v4.9h-4.9zM252.14,231.38h4.9v4.9h-4.9zM254.28,230.95h4.9v4.9h-4.9zM256.42,231.35h4.9v4.9h-4.9zM258.56,230.44h4.9v4.9h-4.9zM260.69,229.55h4.9v4.9h-4.9zM262.83,229.88h4.9v4.9h-4.9zM264.97,229.42h4.9v4.9h-4.9zM267.11,229.43h4.9v4.9h-4.9zM269.24,228.78h4.9v4.9h-4.9zM271.38,229.1h4.9v4.9h-4.9zM281,229.53h4.9v4.9h-4.9zM289.55,229.95h4.9v4.9h-4.9zM298.1,230.78h4.9v4.9h-4.9zM306.65,230.78h4.9v4.9h-4.9zM315.2,230.78h4.9v4.9h-4.9zM323.75,231.03h4.9v4.9h-4.9zM332.3,229.53h4.9v4.9h-4.9zM340.85,230.36h4.9v4.9h-4.9z" fill="#000"/>
<path d="M343.3,228.49L334.75,229.9L326.2,229.9L317.65,229.9L309.1,229.9L300.55,230.32L292,229.9L283.45,229.9L273.83,229.52L271.69,230.05L269.56,229.82L267.42,229.8L265.28,230.17L263.14,228.89L261.01,229.12L258.87,230.13L256.73,229.43L254.59,229.84L252.46,229.85L250.32,230.13L248.18,231.07L246.04,230.95L243.91,230.79L241.77,231.88L239.63,232.43L237.49,232.94L235.36,233.12L233.22,232.81L231.08,232.57L228.94,233.21L226.81,233.48L224.67,233.03L222.53,234.16L220.39,234.42L218.26,234.23L216.12,234.42L213.98,235.13L211.84,235.45L209.71,235.38L207.57,235.72L205.43,390.08L203.29,390.2L201.16,390.72L199.02,390.75L196.88,391.29L194.74,391.56L192.61,391.92L190.47,391.73L188.33,391.88L186.19,392.74L184.06,392.6L181.92,393.34L179.78,393.23L177.64,393.18L175.51,393.08L173.37,393.78L171.23,393.75L169.09,393.72L166.96,394.35L164.82,393.9L162.68,394.17L160.54,393.94L158.41,394.59L156.27,395.02L154.13,394.5L151.99,394.58L149.86,394.99L147.72,394.6L145.58,395.08L143.44,395.28L141.31,395.02L139.17,395.79L129.55,395.47L121,395.47L112.45,395.47L103.9,395.47L95.35,394.22L86.8,394.39L78.25,394.64L69.7,394.97L69.7,394.97L78.25,394.64L86.8,396.55L95.35,396.3L103.9,395.47L112.45,397.63L121,395.88L129.55,395.47L139.17,396.82L141.31,396.51L143.44,396.13L145.58,396.38L147.72,396.13L149.86,396.36L151.99,395.89L154.13,395.29L156.27,395.92L158.41,394.76L160.54,395.61L162.68,395.21L164.82,394.91L166.96,394.37L169.09,394.84L171.23,394.86L173.37,393.68L175.51,393.34L177.64,393.22L179.78,392.38L181.92,393.02L184.06,392.8L186.19,392.31L188.33,392.23L190.47,391.53L192.61,392.24L194.74,391.69L196.88,392.45L199.02,390.75L201.16,390.87L203.29,390.22L205.43,389.66L207.57,236.54L209.71,235.95L211.84,235.44L213.98,235.18L216.12,234.87L218.26,234.22L220.39,234.2L222.53,233.97L224.67,233.84L226.81,233.26L228.94,233.19L231.08,233.18L233.22,232.7L235.36,232.76L237.49,232.89L239.63,231.84L241.77,231.97L243.91,232.25L246.04,231.38L248.18,231.51L250.32,232.04L252.46,230.8L254.59,231.02L256.73,230.71L258.87,230.81L261.01,230.8L263.14,231.21L265.28,230.59L267.42,231.11L269.56,231.24L271.69,231.03L273.83,231.12L283.45,230.32L292,231.15L300.55,232.81L309.1,231.15L317.65,230.98L326.2,229.9L334.75,229.9L343.3,230.73" fill="none" stroke="#ff7a7a" stroke-width="0.6"/>
<g fill="#f00"><circle cx="343.3" cy="228.49" r="2.75"/><circle cx="334.75" cy="229.9" r="2.75"/><circle cx="326.2" cy="229.9" r="2.75"/><circle cx="317.65" cy="229.9" r="2.75"/><circle cx="309.1" cy="229.9" r="2.75"/><circle cx="300.55" cy="230.32" r="2.75"/><circle cx="292" cy="229.9" r="2.75"/><circle cx="283.45" cy="229.9" r="2.75"/><circle cx="273.83" cy="229.52" r="2.75"/><circle cx="271.69" cy="230.05" r="2.75"/><circle cx="269.56" cy="229.82" r="2.75"/><circle cx="267.42" cy="229.8" r="2.75"/><circle cx="265.28" cy="230.17" r="2.75"/><circle cx="263.14" cy="228.89" r="2.75"/><circle cx="261.01" cy="229.12" r="2.75"/><circle cx="258.87" cy="230.13" r="2.75"/><circle cx="256.73" cy="229.43" r="2.75"/><circle cx="254.59" cy="229.84" r="2.75"/><circle cx="252.46" cy="229.85" r="2.75"/><circle cx="250.32" cy="230.13" r="2.75"/><circle cx="248.18" cy="231.07" r="2.75"/><circle cx="246.04" cy="230.95" r="2.75"/><circle cx="243.91" cy="230.79" r="2.75"/><circle cx="241.77" cy="231.88" r="2.75"/><circle cx="239.63" cy="232.43" r="2.75"/><circle cx="237.49" cy="232.94" r="2.75"/><circle cx="235.36" cy="233.12" r="2.75"/><circle cx="233.22" cy="232.81" r="2.75"/><circle cx="231.08" cy="232.57" r="2.75"/><circle cx="228.94" cy="233.21" r="2.75"/><circle cx="226.81" cy="233.48" r="2.75"/><circle cx="224.67" cy="233.03" r="2.75"/><circle cx="222.53" cy="234.16" r="2.75"/><circle cx="220.39" cy="234.42" r="2.75"/><circle cx="218.26" cy="234.23" r="2.75"/><circle cx="216.12" cy="234.42" r="2.75"/><circle cx="213.98" cy="235.13" r="2.75"/><circle cx="211.84" cy="235.45" r="2.75"/><circle cx="209.71" cy="235.38" r="2.75"/><circle cx="207.57" cy="235.72" r="2.75"/><circle cx="205.43" cy="390.08" r="2.75"/><circle cx="203.29" cy="390.2" r="2.75"/><circle cx="201.16" cy="390.72" r="2.75"/><circle cx="199.02" cy="390.75" r="2.75"/><circle cx="196.88" cy="391.29" r="2.75"/><circle cx="194.74" cy="391.56" r="2.75"/><circle cx="192.61" cy="391.92" r="2.75"/><circle cx="190.47" cy="391.73" r="2.75"/><circle cx="188.33" cy="391.88" r="2.75"/><circle cx="186.19" cy="392.74" r="2.75"/><circle cx="184.06" cy="392.6" r="2.75"/><circle cx="181.92" cy="393.34" r="2.75"/><circle cx="179.78" cy="393.23" r="2.75"/><circle cx="177.64" cy="393.18" r="2.75"/><circle cx="175.51" cy="393.08" r="2.75"/><circle cx="173.37" cy="393.78" r="2.75"/><circle cx="171.23" cy="393.75" r="2.75"/><circle cx="169.09" cy="393.72" r="2.75"/><circle cx="166.96" cy="394.35" r="2.75"/><circle cx="164.82" cy="393.9" r="2.75"/><circle cx="162.68" cy="394.17" r="2.75"/><circle cx="160.54" cy="393.94" r="2.75"/><circle cx="158.41" cy="394.59" r="2.75"/><circle cx="156.27" cy="395.02" r="2.75"/><circle cx="154.13" cy="394.5" r="2.75"/><circle cx="151.99" cy="394.58" r="2.75"/><circle cx="149.86" cy="394.99" r="2.75"/><circle cx="147.72" cy="394.6" r="2.75"/><circle cx="145.58" cy="395.08" r="2.75"/><circle cx="143.44" cy="395.28" r="2.75"/><circle cx="141.31" cy="395.02" r="2.75"/><circle cx="139.17" cy="395.79" r="2.75"/><circle cx="129.55" cy="395.47" r="2.75"/><circle cx="121" cy="395.47" r="2.75"/><circle cx="112.45" cy="395.47" r="2.75"/><circle cx="103.9" cy="395.47" r="2.75"/><circle cx="95.35" cy="394.22" r="2.75"/><circle cx="86.8" cy="394.39" r="2.75"/><circle cx="78.25" cy="394.64" r="2.75"/><circle cx="69.7" cy="394.97" r="2.75"/><circle cx="69.7" cy="394.97" r="2.75"/><circle cx="78.25" cy="394.64" r="2.75"/><circle cx="86.8" cy="396.55" r="2.75"/><circle cx="95.35" cy="396.3" r="2.75"/><circle cx="103.9" cy="395.47" r="2.75"/><circle cx="112.45" cy="397.63" r="2.75"/><circle cx="121" cy="395.88" r="2.75"/><circle cx="129.55" cy="395.47" r="2.75"/><circle cx="139.17" cy="396.82" r="2.75"/><circle cx="141.31" cy="396.51" r="2.75"/><circle cx="143.44" cy="396.13" r="2.75"/><circle cx="145.58" cy="396.38" r="2.75"/><circle cx="147.72" cy="396.13" r="2.75"/><circle cx="149.86" cy="396.36" r="2.75"/><circle cx="151.99" cy="395.89" r="2.75"/><circle cx="154.13" cy="395.29" r="2.75"/><circle cx="156.27" cy="395.92" r="2.75"/><circle cx="158.41" cy="394.76" r="2.75"/><circle cx="160.54" cy="395.61" r="2.75"/><circle cx="162.68" cy="395.21" r="2.75"/><circle cx="164.82" cy="394.91" r="2.75"/><circle cx="166.96" cy="394.37" r="2.75"/><circle cx="169.09" cy="394.84" r="2.75"/><circle cx="171.23" cy="394.86" r="2.75"/><circle cx="173.37" cy="393.68" r="2.75"/><circle cx="175.51" cy="393.34" r="2.75"/><circle cx="177.64" cy="393.22" r="2.75"/><circle cx="179.78" cy="392.38" r="2.75"/><circle cx="181.92" cy="393.02" r="2.75"/><circle cx="184.06" cy="392.8" r="2.75"/><circle cx="186.19" cy="392.31" r="2.75"/><circle cx="188.33" cy="392.23" r="2.75"/><circle cx="190.47" cy="391.53" r="2.75"/><circle cx="192.61" cy="392.24" r="2.75"/><circle cx="194.74" cy="391.69" r="2.75"/><circle cx="196.88" cy="392.45" r="2.75"/><circle cx="199.02" cy="390.75" r="2.75"/><circle cx="201.16" cy="390.87" r="2.75"/><circle cx="203.29" cy="390.22" r="2.75"/><circle cx="205.43" cy="389.66" r="2.75"/><circle cx="207.57" cy="236.54" r="2.75"/><circle cx="209.71" cy="235.95" r="2.75"/><circle cx="211.84" cy="235.44" r="2.75"/><circle cx="213.98" cy="235.18" r="2.75"/><circle cx="216.12" cy="234.87" r="2.75"/><circle cx="218.26" cy="234.22" r="2.75"/><circle cx="220.39" cy="234.2" r="2.75"/><circle cx="222.53" cy="233.97" r="2.75"/><circle cx="224.67" cy="233.84" r="2.75"/><circle cx="226.81" cy="233.26" r="2.75"/><circle cx="228.94" cy="233.19" r="2.75"/><circle cx="231.08" cy="233.18" r="2.75"/><circle cx="233.22" cy="232.7" r="2.75"/><circle cx="235.36" cy="232.76" r="2.75"/><circle cx="237.49" cy="232.89" r="2.75"/><circle cx="239.63" cy="231.84" r="2.75"/><circle cx="241.77" cy="231.97" r="2.75"/><circle cx="243.91" cy="232.25" r="2.75"/><circle cx="246.04" cy="231.38" r="2.75"/><circle cx="248.18" cy="231.51" r="2.75"/><circle cx="250.32" cy="232.04" r="2.75"/><circle cx="252.46" cy="230.8" r="2.75"/><circle cx="254.59" cy="231.02" r="2.75"/><circle cx="256.73" cy="230.71" r="2.75"/><circle cx="258.87" cy="230.81" r="2.75"/><circle cx="261.01" cy="230.8" r="2.75"/><circle cx="263.14" cy="231.21" r="2.75"/><circle cx="265.28" cy="230.59" r="2.75"/><circle cx="267.42" cy="231.11" r="2.75"/><circle cx="269.56" cy="231.24" r="2.75"/><circle cx="271.69" cy="231.03" r="2.75"/><circle cx="273.83" cy="231.12" r="2.75"/><circle cx="283.45" cy="230.32" r="2.75"/><circle cx="292" cy="231.15" r="2.75"/><circle cx="300.55" cy="232.81" r="2.75"/><circle cx="309.1" cy="231.15" r="2.75"/><circle cx="317.65" cy="230.98" r="2.75"/><circle cx="326.2" cy="229.9" r="2.75"/><circle cx="334.75" cy="229.9" r="2.75"/><circle cx="343.3" cy="230.73" r="2.75"/></g>
<path d="M661.3,229.07L652.75,229.48L644.2,229.07L635.65,229.07L627.1,227.4L618.55,227.82L610,229.07L601.45,227.4L591.83,228.74L589.69,228.78L587.56,228.36L585.42,228.9L583.28,228.19L581.14,228.16L579.01,228.65L576.87,230.02L574.73,231.15L572.59,231.88L570.46,233.56L568.32,234.22L566.18,234.76L564.04,236.03L561.91,236.4L559.77,237.9L557.63,238.44L555.49,239.41L553.36,240.41L551.22,241.31L549.08,242.4L546.94,245.2L544.81,247.36L542.67,249.82L540.53,253.73L538.39,257.28L536.26,261.92L534.12,267.87L531.98,273.78L529.84,281.89L527.71,288.19L525.57,307.86L523.43,322.64L521.29,331.06L519.16,340.74L517.02,348.96L514.88,355.42L512.74,361.63L510.61,366.24L508.47,370.14L506.33,374.17L504.19,376.94L502.06,378.81L499.92,381.06L497.78,383.18L495.64,383.26L493.51,384.63L491.37,387.12L489.23,387.54L487.09,388.25L484.96,388.64L482.82,389.28L480.68,390.08L478.54,390.82L476.41,390.91L474.27,390.98L472.13,392.14L469.99,392.65L467.86,392.8L465.72,393.91L463.58,393.83L461.44,394.33L459.31,394.46L457.17,395.04L447.55,395.47L439,395.88L430.45,395.47L421.9,395.88L413.35,395.88L404.8,395.88L396.25,396.3L387.7,396.72L387.7,396.88L396.25,397.96L404.8,398.38L413.35,399.63L421.9,400.04L430.45,400.04L439,399.63L447.55,399.21L457.17,397.09L459.31,396.74L461.44,396.2L463.58,395.97L465.72,395.26L467.86,394.54L469.99,393.91L472.13,393.2L474.27,393.42L476.41,392.61L478.54,392.52L480.68,390.26L482.82,390.34L484.96,389.26L487.09,388.22L489.23,387.99L491.37,386.31L493.51,385.39L495.64,384.72L497.78,382.7L499.92,380.81L502.06,379.94L504.19,376.93L506.33,374.32L508.47,370.84L510.61,366.77L512.74,361.82L514.88,356.67L517.02,350.7L519.16,343.39L521.29,334.64L523.43,328.76L525.57,313.46L527.71,291.87L529.84,283.87L531.98,275.76L534.12,269.31L536.26,263.13L538.39,257.88L540.53,253.39L542.67,250.06L544.81,247.14L546.94,245.08L549.08,242.81L551.22,241.86L553.36,240.65L555.49,239.1L557.63,238.5L559.77,237.76L561.91,237L564.04,236.41L566.18,235.7L568.32,235.25L570.46,235.07L572.59,233.79L574.73,232.9L576.87,232.23L579.01,230.83L581.14,230.47L583.28,230.16L585.42,229.92L587.56,229.91L589.69,230.88L591.83,230.81L601.45,231.15L610,229.9L618.55,231.15L627.1,231.15L635.65,230.73L644.2,229.9L652.75,229.9L661.3,229.9" fill="none" stroke="#8c8c8c" stroke-width="0.6"/>
<path d="M658.85,226.62h4.9v4.9h-4.9zM650.3,227.03h4.9v4.9h-4.9zM641.75,226.62h4.9v4.9h-4.9zM633.2,226.62h4.9v4.9h-4.9zM624.65,224.95h4.9v4.9h-4.9zM616.1,225.37h4.9v4.9h-4.9zM607.55,226.62h4.9v4.9h-4.9zM599,224.95h4.9v4.9h-4.9zM589.38,226.29h4.9v4.9h-4.9zM587.24,226.33h4.9v4.9h-4.9zM585.11,225.91h4.9v4.9h-4.9zM582.97,226.45h4.9v4.9h-4.9zM580.83,225.74h4.9v4.9h-4.9zM578.69,225.71h4.9v4.9h-4.9zM576.56,226.2h4.9v4.9h-4.9zM574.42,227.57h4.9v4.9h-4.9zM572.28,228.7h4.9v4.9h-4.9zM570.14,229.43h4.9v4.9h-4.9zM568.01,231.11h4.9v4.9h-4.9zM565.87,231.77h4.9v4.9h-4.9zM563.73,232.31h4.9v4.9h-4.9zM561.59,233.58h4.9v4.9h-4.9zM559.46,233.95h4.9v4.9h-4.9zM557.32,235.45h4.9v4.9h-4.9zM555.18,235.99h4.9v4.9h-4.9zM553.04,236.96h4.9v4.9h-4.9zM550.91,237.96h4.9v4.9h-4.9zM548.77,238.86h4.9v4.9h-4.9zM546.63,239.95h4.9v4.9h-4.9zM544.49,242.75h4.9v4.9h-4.9zM542.36,244.91h4.9v4.9h-4.9zM540.22,247.37h4.9v4.9h-4.9zM538.08,251.28h4.9v4.9h-4.9zM535.94,254.83h4.9v4.9h-4.9zM533.81,259.47h4.9v4.9h-4.9zM531.67,265.42h4.9v4.9h-4.9zM529.53,271.33h4.9v4.9h-4.9zM527.39,279.44h4.9v4.9h-4.9zM525.26,285.74h4.9v4.9h-4.9zM523.12,305.41h4.9v4.9h-4.9zM520.98,320.19h4.9v4.9h-4.9zM518.84,328.61h4.9v4.9h-4.9zM516.71,338.29h4.9v4.9h-4.9zM514.57,346.51h4.9v4.9h-4.9zM512.43,352.97h4.9v4.9h-4.9zM510.29,359.18h4.9v4.9h-4.9zM508.16,363.79h4.9v4.9h-4.9zM506.02,367.69h4.9v4.9h-4.9zM503.88,371.72h4.9v4.9h-4.9zM501.74,374.49h4.9v4.9h-4.9zM499.61,376.36h4.9v4.9h-4.9zM497.47,378.61h4.9v4.9h-4.9zM495.33,380.73h4.9v4.9h-4.9zM493.19,380.81h4.9v4.9h-4.9zM491.06,382.18h4.9v4.9h-4.9zM488.92,384.67h4.9v4.9h-4.9zM486.78,385.09h4.9v4.9h-4.9zM484.64,385.8h4.9v4.9h-4.9zM482.51,386.19h4.9v4.9h-4.9zM480.37,386.83h4.9v4.9h-4.9zM478.23,387.63h4.9v4.9h-4.9zM476.09,388.37h4.9v4.9h-4.9zM473.96,388.46h4.9v4.9h-4.9zM471.82,388.53h4.9v4.9h-4.9zM469.68,389.69h4.9v4.9h-4.9zM467.54,390.2h4.9v4.9h-4.9zM465.41,390.35h4.9v4.9h-4.9zM463.27,391.46h4.9v4.9h-4.9zM461.13,391.38h4.9v4.9h-4.9zM458.99,391.88h4.9v4.9h-4.9zM456.86,392.01h4.9v4.9h-4.9zM454.72,392.59h4.9v4.9h-4.9zM445.1,393.02h4.9v4.9h-4.9zM436.55,393.43h4.9v4.9h-4.9zM428,393.02h4.9v4.9h-4.9zM419.45,393.43h4.9v4.9h-4.9zM410.9,393.43h4.9v4.9h-4.9zM402.35,393.43h4.9v4.9h-4.9zM393.8,393.85h4.9v4.9h-4.9zM385.25,394.27h4.9v4.9h-4.9zM385.25,394.43h4.9v4.9h-4.9zM393.8,395.51h4.9v4.9h-4.9zM402.35,395.93h4.9v4.9h-4.9zM410.9,397.18h4.9v4.9h-4.9zM419.45,397.59h4.9v4.9h-4.9zM428,397.59h4.9v4.9h-4.9zM436.55,397.18h4.9v4.9h-4.9zM445.1,396.76h4.9v4.9h-4.9zM454.72,394.64h4.9v4.9h-4.9zM456.86,394.29h4.9v4.9h-4.9zM458.99,393.75h4.9v4.9h-4.9zM461.13,393.52h4.9v4.9h-4.9zM463.27,392.81h4.9v4.9h-4.9zM465.41,392.09h4.9v4.9h-4.9zM467.54,391.46h4.9v4.9h-4.9zM469.68,390.75h4.9v4.9h-4.9zM471.82,390.97h4.9v4.9h-4.9zM473.96,390.16h4.9v4.9h-4.9zM476.09,390.07h4.9v4.9h-4.9zM478.23,387.81h4.9v4.9h-4.9zM480.37,387.89h4.9v4.9h-4.9zM482.51,386.81h4.9v4.9h-4.9zM484.64,385.77h4.9v4.9h-4.9zM486.78,385.54h4.9v4.9h-4.9zM488.92,383.86h4.9v4.9h-4.9zM491.06,382.94h4.9v4.9h-4.9zM493.19,382.27h4.9v4.9h-4.9zM495.33,380.25h4.9v4.9h-4.9zM497.47,378.36h4.9v4.9h-4.9zM499.61,377.49h4.9v4.9h-4.9zM501.74,374.48h4.9v4.9h-4.9zM503.88,371.87h4.9v4.9h-4.9zM506.02,368.39h4.9v4.9h-4.9zM508.16,364.32h4.9v4.9h-4.9zM510.29,359.37h4.9v4.9h-4.9zM512.43,354.22h4.9v4.9h-4.9zM514.57,348.25h4.9v4.9h-4.9zM516.71,340.94h4.9v4.9h-4.9zM518.84,332.19h4.9v4.9h-4.9zM520.98,326.31h4.9v4.9h-4.9zM523.12,311.01h4.9v4.9h-4.9zM525.26,289.42h4.9v4.9h-4.9zM527.39,281.42h4.9v4.9h-4.9zM529.53,273.31h4.9v4.9h-4.9zM531.67,266.86h4.9v4.9h-4.9zM533.81,260.68h4.9v4.9h-4.9zM535.94,255.43h4.9v4.9h-4.9zM538.08,250.94h4.9v4.9h-4.9zM540.22,247.61h4.9v4.9h-4.9zM542.36,244.69h4.9v4.9h-4.9zM544.49,242.63h4.9v4.9h-4.9zM546.63,240.36h4.9v4.9h-4.9zM548.77,239.41h4.9v4.9h-4.9zM550.91,238.2h4.9v4.9h-4.9zM553.04,236.65h4.9v4.9h-4.9zM555.18,236.05h4.9v4.9h-4.9zM557.32,235.31h4.9v4.9h-4.9zM559.46,234.55h4.9v4.9h-4.9zM561.59,233.96h4.9v4.9h-4.9zM563.73,233.25h4.9v4.9h-4.9zM565.87,232.8h4.9v4.9h-4.9zM568.01,232.62h4.9v4.9h-4.9zM570.14,231.34h4.9v4.9h-4.9zM572.28,230.45h4.9v4.9h-4.9zM574.42,229.78h4.9v4.9h-4.9zM576.56,228.38h4.9v4.9h-4.9zM578.69,228.02h4.9v4.9h-4.9zM580.83,227.71h4.9v4.9h-4.9zM582.97,227.47h4.9v4.9h-4.9zM585.11,227.46h4.9v4.9h-4.9zM587.24,228.43h4.9v4.9h-4.9zM589.38,228.36h4.9v4.9h-4.9zM599,228.7h4.9v4.9h-4.9zM607.55,227.45h4.9v4.9h-4.9zM616.1,228.7h4.9v4.9h-4.9zM624.65,228.7h4.9v4.9h-4.9zM633.2,228.28h4.9v4.9h-4.9zM641.75,227.45h4.9v4.9h-4.9zM650.3,227.45h4.9v4.9h-4.9zM658.85,227.45h4.9v4.9h-4.9z" fill="#000"/>
<path d="M661.3,226.99L652.75,228.24L644.2,226.99L635.65,227.4L627.1,226.99L618.55,227.4L610,226.99L601.45,229.48L591.83,228.93L589.69,227.72L587.56,228.5L585.42,227.79L583.28,228.27L581.14,227.87L579.01,227.69L576.87,229.62L574.73,229.49L572.59,229.75L570.46,230.39L568.32,231.09L566.18,230.87L564.04,232.32L561.91,233.62L559.77,233.41L557.63,234.88L555.49,234.54L553.36,235.5L551.22,235.69L549.08,235.81L546.94,236.75L544.81,238.1L542.67,239.11L540.53,239.25L538.39,240.62L536.26,242.7L534.12,243.93L531.98,245.95L529.84,248.03L527.71,251.32L525.57,253.36L523.43,365.05L521.29,370.5L519.16,373.91L517.02,378.57L514.88,380.38L512.74,382.48L510.61,383.45L508.47,386.18L506.33,387.01L504.19,387.89L502.06,388.44L499.92,389.6L497.78,389.77L495.64,391.11L493.51,391.43L491.37,392.07L489.23,391.85L487.09,392.13L484.96,392.44L482.82,391.55L480.68,391.82L478.54,392.3L476.41,392.27L474.27,392.22L472.13,393.08L469.99,393.01L467.86,393.14L465.72,393.48L463.58,394.11L461.44,395.03L459.31,394.16L457.17,394.71L447.55,395.88L439,396.3L430.45,396.3L421.9,396.72L413.35,396.3L404.8,395.88L396.25,396.72L387.7,396.72L387.7,396.88L396.25,397.96L404.8,398.38L413.35,399.63L421.9,399.63L430.45,399.63L439,399.21L447.55,398.8L457.17,398.14L459.31,397.99L461.44,397.57L463.58,397.47L465.72,397.33L467.86,396.89L469.99,396.5L472.13,396.29L474.27,396.26L476.41,395.45L478.54,395.88L480.68,394.88L482.82,394.91L484.96,393.93L487.09,393.06L489.23,392.92L491.37,392.71L493.51,391.55L495.64,390.8L497.78,390.74L499.92,389.65L502.06,388.69L504.19,388.08L506.33,386.91L508.47,385.67L510.61,384.15L512.74,382.53L514.88,380.59L517.02,378.5L519.16,375.43L521.29,373.12L523.43,369.71L525.57,257.58L527.71,253.42L529.84,249.58L531.98,246.77L534.12,244.89L536.26,242.62L538.39,240.8L540.53,239.75L542.67,237.89L544.81,238.52L546.94,236.87L549.08,236.84L551.22,235.41L553.36,234.42L555.49,235.81L557.63,234.84L559.77,234.61L561.91,234.79L564.04,234.29L566.18,234.99L568.32,233.75L570.46,233.56L572.59,233.23L574.73,232.87L576.87,231.89L579.01,231.92L581.14,231.4L583.28,231.55L585.42,232.27L587.56,231.67L589.69,231.75L591.83,231.72L601.45,229.9L610,230.73L618.55,230.73L627.1,230.73L635.65,230.32L644.2,230.73L652.75,229.07L661.3,230.32" fill="none" stroke="#ff7a7a" stroke-width="0.6"/>
<g fill="#f00"><circle cx="661.3" cy="226.99" r="2.75"/><circle cx="652.75" cy="228.24" r="2.75"/><circle cx="644.2" cy="226.99" r="2.75"/><circle cx="635.65" cy="227.4" r="2.75"/><circle cx="627.1" cy="226.99" r="2.75"/><circle cx="618.55" cy="227.4" r="2.75"/><circle cx="610" cy="226.99" r="2.75"/><circle cx="601.45" cy="229.48" r="2.75"/><circle cx="591.83" cy="228.93" r="2.75"/><circle cx="589.69" cy="227.72" r="2.75"/><circle cx="587.56" cy="228.5" r="2.75"/><circle cx="585.42" cy="227.79" r="2.75"/><circle cx="583.28" cy="228.27" r="2.75"/><circle cx="581.14" cy="227.87" r="2.75"/><circle cx="579.01" cy="227.69" r="2.75"/><circle cx="576.87" cy="229.62" r="2.75"/><circle cx="574.73" cy="229.49" r="2.75"/><circle cx="572.59" cy="229.75" r="2.75"/><circle cx="570.46" cy="230.39" r="2.75"/><circle cx="568.32" cy="231.09" r="2.75"/><circle cx="566.18" cy="230.87" r="2.75"/><circle cx="564.04" cy="232.32" r="2.75"/><circle cx="561.91" cy="233.62" r="2.75"/><circle cx="559.77" cy="233.41" r="2.75"/><circle cx="557.63" cy="234.88" r="2.75"/><circle cx="555.49" cy="234.54" r="2.75"/><circle cx="553.36" cy="235.5" r="2.75"/><circle cx="551.22" cy="235.69" r="2.75"/><circle cx="549.08" cy="235.81" r="2.75"/><circle cx="546.94" cy="236.75" r="2.75"/><circle cx="544.81" cy="238.1" r="2.75"/><circle cx="542.67" cy="239.11" r="2.75"/><circle cx="540.53" cy="239.25" r="2.75"/><circle cx="538.39" cy="240.62" r="2.75"/><circle cx="536.26" cy="242.7" r="2.75"/><circle cx="534.12" cy="243.93" r="2.75"/><circle cx="531.98" cy="245.95" r="2.75"/><circle cx="529.84" cy="248.03" r="2.75"/><circle cx="527.71" cy="251.32" r="2.75"/><circle cx="525.57" cy="253.36" r="2.75"/><circle cx="523.43" cy="365.05" r="2.75"/><circle cx="521.29" cy="370.5" r="2.75"/><circle cx="519.16" cy="373.91" r="2.75"/><circle cx="517.02" cy="378.57" r="2.75"/><circle cx="514.88" cy="380.38" r="2.75"/><circle cx="512.74" cy="382.48" r="2.75"/><circle cx="510.61" cy="383.45" r="2.75"/><circle cx="508.47" cy="386.18" r="2.75"/><circle cx="506.33" cy="387.01" r="2.75"/><circle cx="504.19" cy="387.89" r="2.75"/><circle cx="502.06" cy="388.44" r="2.75"/><circle cx="499.92" cy="389.6" r="2.75"/><circle cx="497.78" cy="389.77" r="2.75"/><circle cx="495.64" cy="391.11" r="2.75"/><circle cx="493.51" cy="391.43" r="2.75"/><circle cx="491.37" cy="392.07" r="2.75"/><circle cx="489.23" cy="391.85" r="2.75"/><circle cx="487.09" cy="392.13" r="2.75"/><circle cx="484.96" cy="392.44" r="2.75"/><circle cx="482.82" cy="391.55" r="2.75"/><circle cx="480.68" cy="391.82" r="2.75"/><circle cx="478.54" cy="392.3" r="2.75"/><circle cx="476.41" cy="392.27" r="2.75"/><circle cx="474.27" cy="392.22" r="2.75"/><circle cx="472.13" cy="393.08" r="2.75"/><circle cx="469.99" cy="393.01" r="2.75"/><circle cx="467.86" cy="393.14" r="2.75"/><circle cx="465.72" cy="393.48" r="2.75"/><circle cx="463.58" cy="394.11" r="2.75"/><circle cx="461.44" cy="395.03" r="2.75"/><circle cx="459.31" cy="394.16" r="2.75"/><circle cx="457.17" cy="394.71" r="2.75"/><circle cx="447.55" cy="395.88" r="2.75"/><circle cx="439" cy="396.3" r="2.75"/><circle cx="430.45" cy="396.3" r="2.75"/><circle cx="421.9" cy="396.72" r="2.75"/><circle cx="413.35" cy="396.3" r="2.75"/><circle cx="404.8" cy="395.88" r="2.75"/><circle cx="396.25" cy="396.72" r="2.75"/><circle cx="387.7" cy="396.72" r="2.75"/><circle cx="387.7" cy="396.88" r="2.75"/><circle cx="396.25" cy="397.96" r="2.75"/><circle cx="404.8" cy="398.38" r="2.75"/><circle cx="413.35" cy="399.63" r="2.75"/><circle cx="421.9" cy="399.63" r="2.75"/><circle cx="430.45" cy="399.63" r="2.75"/><circle cx="439" cy="399.21" r="2.75"/><circle cx="447.55" cy="398.8" r="2.75"/><circle cx="457.17" cy="398.14" r="2.75"/><circle cx="459.31" cy="397.99" r="2.75"/><circle cx="461.44" cy="397.57" r="2.75"/><circle cx="463.58" cy="397.47" r="2.75"/><circle cx="465.72" cy="397.33" r="2.75"/><circle cx="467.86" cy="396.89" r="2.75"/><circle cx="469.99" cy="396.5" r="2.75"/><circle cx="472.13" cy="396.29" r="2.75"/><circle cx="474.27" cy="396.26" r="2.75"/><circle cx="476.41" cy="395.45" r="2.75"/><circle cx="478.54" cy="395.88" r="2.75"/><circle cx="480.68" cy="394.88" r="2.75"/><circle cx="482.82" cy="394.91" r="2.75"/><circle cx="484.96" cy="393.93" r="2.75"/><circle cx="487.09" cy="393.06" r="2.75"/><circle cx="489.23" cy="392.92" r="2.75"/><circle cx="491.37" cy="392.71" r="2.75"/><circle cx="493.51" cy="391.55" r="2.75"/><circle cx="495.64" cy="390.8" r="2.75"/><circle cx="497.78" cy="390.74" r="2.75"/><circle cx="499.92" cy="389.65" r="2.75"/><circle cx="502.06" cy="388.69" r="2.75"/><circle cx="504.19" cy="388.08" r="2.75"/><circle cx="506.33" cy="386.91" r="2.75"/><circle cx="508.47" cy="385.67" r="2.75"/><circle cx="510.61" cy="384.15" r="2.75"/><circle cx="512.74" cy="382.53" r="2.75"/><circle cx="514.88" cy="380.59" r="2.75"/><circle cx="517.02" cy="378.5" r="2.75"/><circle cx="519.16" cy="375.43" r="2.75"/><circle cx="521.29" cy="373.12" r="2.75"/><circle cx="523.43" cy="369.71" r="2.75"/><circle cx="525.57" cy="257.58" r="2.75"/><circle cx="527.71" cy="253.42" r="2.75"/><circle cx="529.84" cy="249.58" r="2.75"/><circle cx="531.98" cy="246.77" r="2.75"/><circle cx="534.12" cy="244.89" r="2.75"/><circle cx="536.26" cy="242.62" r="2.75"/><circle cx="538.39" cy="240.8" r="2.75"/><circle cx="540.53" cy="239.75" r="2.75"/><circle cx="542.67" cy="237.89" r="2.75"/><circle cx="544.81" cy="238.52" r="2.75"/><circle cx="546.94" cy="236.87" r="2.75"/><circle cx="549.08" cy="236.84" r="2.75"/><circle cx="551.22" cy="235.41" r="2.75"/><circle cx="553.36" cy="234.42" r="2.75"/><circle cx="555.49" cy="235.81" r="2.75"/><circle cx="557.63" cy="234.84" r="2.75"/><circle cx="559.77" cy="234.61" r="2.75"/><circle cx="561.91" cy="234.79" r="2.75"/><circle cx="564.04" cy="234.29" r="2.75"/><circle cx="566.18" cy="234.99" r="2.75"/><circle cx="568.32" cy="233.75" r="2.75"/><circle cx="570.46" cy="233.56" r="2.75"/><circle cx="572.59" cy="233.23" r="2.75"/><circle cx="574.73" cy="232.87" r="2.75"/><circle cx="576.87" cy="231.89" r="2.75"/><circle cx="579.01" cy="231.92" r="2.75"/><circle cx="581.14" cy="231.4" r="2.75"/><circle cx="583.28" cy="231.55" r="2.75"/><circle cx="585.42" cy="232.27" r="2.75"/><circle cx="587.56" cy="231.67" r="2.75"/><circle cx="589.69" cy="231.75" r="2.75"/><circle cx="591.83" cy="231.72" r="2.75"/><circle cx="601.45" cy="229.9" r="2.75"/><circle cx="610" cy="230.73" r="2.75"/><circle cx="618.55" cy="230.73" r="2.75"/><circle cx="627.1" cy="230.73" r="2.75"/><circle cx="635.65" cy="230.32" r="2.75"/><circle cx="644.2" cy="230.73" r="2.75"/><circle cx="652.75" cy="229.07" r="2.75"/><circle cx="661.3" cy="230.32" r="2.75"/></g>
<g fill="none" stroke="#000" stroke-width="1.3"><path d="M47.6,1.2V416.9H683.3V1.2"/><path d="M46.95,1.25H683.9499999999999" stroke-width="1.6"/><line x1="365.6" y1="1.4" x2="365.6" y2="416.9"/><line x1="47.6" y1="209.25" x2="683.3" y2="209.25"/><line x1="206.5" y1="1.4" x2="206.5" y2="209.25"/><line x1="47.6" y1="105.2" x2="365.6" y2="105.2"/><line x1="69.70" y1="209.25" x2="69.70" y2="204.65"/><line x1="103.90" y1="209.25" x2="103.90" y2="206.85"/><line x1="138.10" y1="209.25" x2="138.10" y2="204.65"/><line x1="172.30" y1="209.25" x2="172.30" y2="206.85"/><line x1="206.50" y1="209.25" x2="206.50" y2="204.65"/><line x1="240.70" y1="209.25" x2="240.70" y2="206.85"/><line x1="274.90" y1="209.25" x2="274.90" y2="204.65"/><line x1="309.10" y1="209.25" x2="309.10" y2="206.85"/><line x1="343.30" y1="209.25" x2="343.30" y2="204.65"/><line x1="47.6" y1="188.45" x2="52.2" y2="188.45"/><line x1="47.6" y1="146.82" x2="50.0" y2="146.82"/><line x1="47.6" y1="63.67" x2="50.0" y2="63.67"/><line x1="47.6" y1="22.15" x2="52.2" y2="22.15"/><line x1="524.5" y1="1.4" x2="524.5" y2="209.25"/><line x1="365.6" y1="105.2" x2="683.3" y2="105.2"/><line x1="387.70" y1="209.25" x2="387.70" y2="204.65"/><line x1="421.90" y1="209.25" x2="421.90" y2="206.85"/><line x1="456.10" y1="209.25" x2="456.10" y2="204.65"/><line x1="490.30" y1="209.25" x2="490.30" y2="206.85"/><line x1="524.50" y1="209.25" x2="524.50" y2="204.65"/><line x1="558.70" y1="209.25" x2="558.70" y2="206.85"/><line x1="592.90" y1="209.25" x2="592.90" y2="204.65"/><line x1="627.10" y1="209.25" x2="627.10" y2="206.85"/><line x1="661.30" y1="209.25" x2="661.30" y2="204.65"/><line x1="365.6" y1="188.45" x2="370.20000000000005" y2="188.45"/><line x1="365.6" y1="146.82" x2="368.0" y2="146.82"/><line x1="365.6" y1="63.67" x2="368.0" y2="63.67"/><line x1="365.6" y1="22.15" x2="370.20000000000005" y2="22.15"/><line x1="206.5" y1="209.25" x2="206.5" y2="416.9"/><line x1="47.6" y1="313.0" x2="365.6" y2="313.0"/><line x1="69.70" y1="416.9" x2="69.70" y2="412.29999999999995"/><line x1="103.90" y1="416.9" x2="103.90" y2="414.5"/><line x1="138.10" y1="416.9" x2="138.10" y2="412.29999999999995"/><line x1="172.30" y1="416.9" x2="172.30" y2="414.5"/><line x1="206.50" y1="416.9" x2="206.50" y2="412.29999999999995"/><line x1="240.70" y1="416.9" x2="240.70" y2="414.5"/><line x1="274.90" y1="416.9" x2="274.90" y2="412.29999999999995"/><line x1="309.10" y1="416.9" x2="309.10" y2="414.5"/><line x1="343.30" y1="416.9" x2="343.30" y2="412.29999999999995"/><line x1="47.6" y1="396.45" x2="52.2" y2="396.45"/><line x1="47.6" y1="354.73" x2="50.0" y2="354.73"/><line x1="47.6" y1="271.60" x2="50.0" y2="271.60"/><line x1="47.6" y1="230.20" x2="52.2" y2="230.20"/><line x1="524.5" y1="209.25" x2="524.5" y2="416.9"/><line x1="365.6" y1="313.0" x2="683.3" y2="313.0"/><line x1="387.70" y1="416.9" x2="387.70" y2="412.29999999999995"/><line x1="421.90" y1="416.9" x2="421.90" y2="414.5"/><line x1="456.10" y1="416.9" x2="456.10" y2="412.29999999999995"/><line x1="490.30" y1="416.9" x2="490.30" y2="414.5"/><line x1="524.50" y1="416.9" x2="524.50" y2="412.29999999999995"/><line x1="558.70" y1="416.9" x2="558.70" y2="414.5"/><line x1="592.90" y1="416.9" x2="592.90" y2="412.29999999999995"/><line x1="627.10" y1="416.9" x2="627.10" y2="414.5"/><line x1="661.30" y1="416.9" x2="661.30" y2="412.29999999999995"/><line x1="365.6" y1="396.45" x2="370.20000000000005" y2="396.45"/><line x1="365.6" y1="354.73" x2="368.0" y2="354.73"/><line x1="365.6" y1="271.60" x2="368.0" y2="271.60"/><line x1="365.6" y1="230.20" x2="370.20000000000005" y2="230.20"/></g>
<g font-family="'Liberation Serif', serif" font-weight="bold" fill="#000"><text transform="translate(69.80,436.50)" font-size="18.6" text-anchor="middle" stroke="#000" stroke-width="0.1" stroke-linejoin="round">-8000</text><text transform="translate(138.20,436.50)" font-size="18.6" text-anchor="middle" stroke="#000" stroke-width="0.1" stroke-linejoin="round">-4000</text><text transform="translate(206.60,436.50)" font-size="18.6" text-anchor="middle" stroke="#000" stroke-width="0.1" stroke-linejoin="round">0</text><text transform="translate(275.00,436.50)" font-size="18.6" text-anchor="middle" stroke="#000" stroke-width="0.1" stroke-linejoin="round">4000</text><text transform="translate(343.40,436.50)" font-size="18.6" text-anchor="middle" stroke="#000" stroke-width="0.1" stroke-linejoin="round">8000</text><text transform="translate(212.70,461.80) scale(1.0,1.03)" font-size="21.8" text-anchor="middle" stroke="#000" stroke-width="0.25" stroke-linejoin="round">H(Oe)</text><text transform="translate(387.80,436.50)" font-size="18.6" text-anchor="middle" stroke="#000" stroke-width="0.1" stroke-linejoin="round">-8000</text><text transform="translate(456.20,436.50)" font-size="18.6" text-anchor="middle" stroke="#000" stroke-width="0.1" stroke-linejoin="round">-4000</text><text transform="translate(524.60,436.50)" font-size="18.6" text-anchor="middle" stroke="#000" stroke-width="0.1" stroke-linejoin="round">0</text><text transform="translate(593.00,436.50)" font-size="18.6" text-anchor="middle" stroke="#000" stroke-width="0.1" stroke-linejoin="round">4000</text><text transform="translate(661.40,436.50)" font-size="18.6" text-anchor="middle" stroke="#000" stroke-width="0.1" stroke-linejoin="round">8000</text><text transform="translate(523.50,461.80) scale(1.0,1.03)" font-size="21.8" text-anchor="middle" stroke="#000" stroke-width="0.25" stroke-linejoin="round">H(Oe)</text><text transform="translate(42.90,194.05)" font-size="18.6" text-anchor="end" stroke="#000" stroke-width="0.2" stroke-linejoin="round">-1</text><text transform="translate(43.00,111.45)" font-size="18.6" text-anchor="end" stroke="#000" stroke-width="0.2" stroke-linejoin="round">0</text><text transform="translate(42.80,28.25)" font-size="18.6" text-anchor="end" stroke="#000" stroke-width="0.2" stroke-linejoin="round">1</text><text transform="translate(42.90,402.05)" font-size="18.6" text-anchor="end" stroke="#000" stroke-width="0.2" stroke-linejoin="round">-1</text><text transform="translate(43.00,319.25)" font-size="18.6" text-anchor="end" stroke="#000" stroke-width="0.2" stroke-linejoin="round">0</text><text transform="translate(42.80,236.30)" font-size="18.6" text-anchor="end" stroke="#000" stroke-width="0.2" stroke-linejoin="round">1</text><text transform="translate(15.50,203.70) rotate(-90)" font-size="21.8" text-anchor="middle" stroke="#000" stroke-width="0.2" stroke-linejoin="round">M/Ms</text><text transform="translate(101.00,47.60)" font-size="17.9">in-plane</text><text transform="translate(101.00,69.90)" font-size="17.9">out-of-plane</text><text transform="translate(89.00,92.70) scale(1.0,1.05)" font-size="17" stroke="#000" stroke-width="0.35" stroke-linejoin="round">T</text><text transform="translate(100.60,96.30) scale(1.0,1.15)" font-size="16.3" stroke="#000" stroke-width="0.4" stroke-linejoin="round">an</text><text transform="translate(118.40,90.95) scale(1.0,0.62)" font-size="18.4" stroke="#000" stroke-width="1.2" stroke-linejoin="round">=</text><text transform="translate(129.00,92.70)" font-size="18.1" stroke="#000" stroke-width="0.3" stroke-linejoin="round">300</text><text transform="translate(155.80,93.10)" font-size="18.1" stroke="#000" stroke-width="0.3" stroke-linejoin="round">°</text><text transform="translate(162.30,92.70)" font-size="18.1" stroke="#000" stroke-width="0.3" stroke-linejoin="round">C</text><text transform="translate(249.90,194.80) scale(1.0,1.05)" font-size="22" stroke="#000" stroke-width="0.35" stroke-linejoin="round">t</text><text transform="translate(257.10,203.85) scale(1.03,1.06)" font-size="13.1" stroke="#000" stroke-width="0.3" stroke-linejoin="round">MgO</text><text transform="translate(291.40,192.05) scale(1.0,0.62)" font-size="18.4" stroke="#000" stroke-width="1.2" stroke-linejoin="round">=</text><text transform="translate(307.40,194.50) scale(1.02,1.0)" font-size="17.9" stroke="#000" stroke-width="0.25" stroke-linejoin="round">0.9</text><text transform="translate(335.00,194.50)" font-size="18.4" stroke="#000" stroke-width="0.2" stroke-linejoin="round">nm</text><text transform="translate(566.80,194.80) scale(1.0,1.05)" font-size="22" stroke="#000" stroke-width="0.35" stroke-linejoin="round">t</text><text transform="translate(574.00,203.85) scale(1.03,1.06)" font-size="13.1" stroke="#000" stroke-width="0.3" stroke-linejoin="round">MgO</text><text transform="translate(608.30,192.05) scale(1.0,0.62)" font-size="18.4" stroke="#000" stroke-width="1.2" stroke-linejoin="round">=</text><text transform="translate(624.30,194.50) scale(1.02,1.0)" font-size="17.9" stroke="#000" stroke-width="0.25" stroke-linejoin="round">1.1</text><text transform="translate(651.90,194.50)" font-size="18.4" stroke="#000" stroke-width="0.2" stroke-linejoin="round">nm</text><text transform="translate(250.50,401.30) scale(1.0,1.05)" font-size="22" stroke="#000" stroke-width="0.35" stroke-linejoin="round">t</text><text transform="translate(257.70,410.35) scale(1.03,1.06)" font-size="13.1" stroke="#000" stroke-width="0.3" stroke-linejoin="round">MgO</text><text transform="translate(292.00,398.55) scale(1.0,0.62)" font-size="18.4" stroke="#000" stroke-width="1.2" stroke-linejoin="round">=</text><text transform="translate(308.00,401.00) scale(1.02,1.0)" font-size="17.9" stroke="#000" stroke-width="0.25" stroke-linejoin="round">1.3</text><text transform="translate(335.60,401.00)" font-size="18.4" stroke="#000" stroke-width="0.2" stroke-linejoin="round">nm</text><text transform="translate(566.80,402.40) scale(1.0,1.05)" font-size="22" stroke="#000" stroke-width="0.35" stroke-linejoin="round">t</text><text transform="translate(574.00,411.45) scale(1.03,1.06)" font-size="13.1" stroke="#000" stroke-width="0.3" stroke-linejoin="round">MgO</text><text transform="translate(608.30,399.65) scale(1.0,0.62)" font-size="18.4" stroke="#000" stroke-width="1.2" stroke-linejoin="round">=</text><text transform="translate(624.30,402.10) scale(1.02,1.0)" font-size="17.9" stroke="#000" stroke-width="0.25" stroke-linejoin="round">1.5</text><text transform="translate(651.90,402.10)" font-size="18.4" stroke="#000" stroke-width="0.2" stroke-linejoin="round">nm</text></g>
<g font-family="'Liberation Sans', sans-serif" font-weight="bold" fill="#000"><text transform="translate(56.00,28.10)" font-size="23.6" stroke="#000" stroke-width="0.45" stroke-linejoin="round">a</text><text transform="translate(377.20,28.20)" font-size="23.6" stroke="#000" stroke-width="0.45" stroke-linejoin="round">b</text><text transform="translate(56.20,235.80)" font-size="23.6" stroke="#000" stroke-width="0.45" stroke-linejoin="round">c</text><text transform="translate(377.20,235.80)" font-size="23.6" stroke="#000" stroke-width="0.45" stroke-linejoin="round">d</text></g>
<line x1="56.7" y1="41.9" x2="96.2" y2="41.9" stroke="#8c8c8c" stroke-width="0.7"/>
<rect x="74.1" y="39.4" width="4.9" height="4.9" fill="#000"/>
<line x1="56.7" y1="64.25" x2="96.2" y2="64.25" stroke="#ff7a7a" stroke-width="0.8"/>
<circle cx="76.5" cy="64.25" r="2.75" fill="#f00"/>
</svg>
</body></html>
